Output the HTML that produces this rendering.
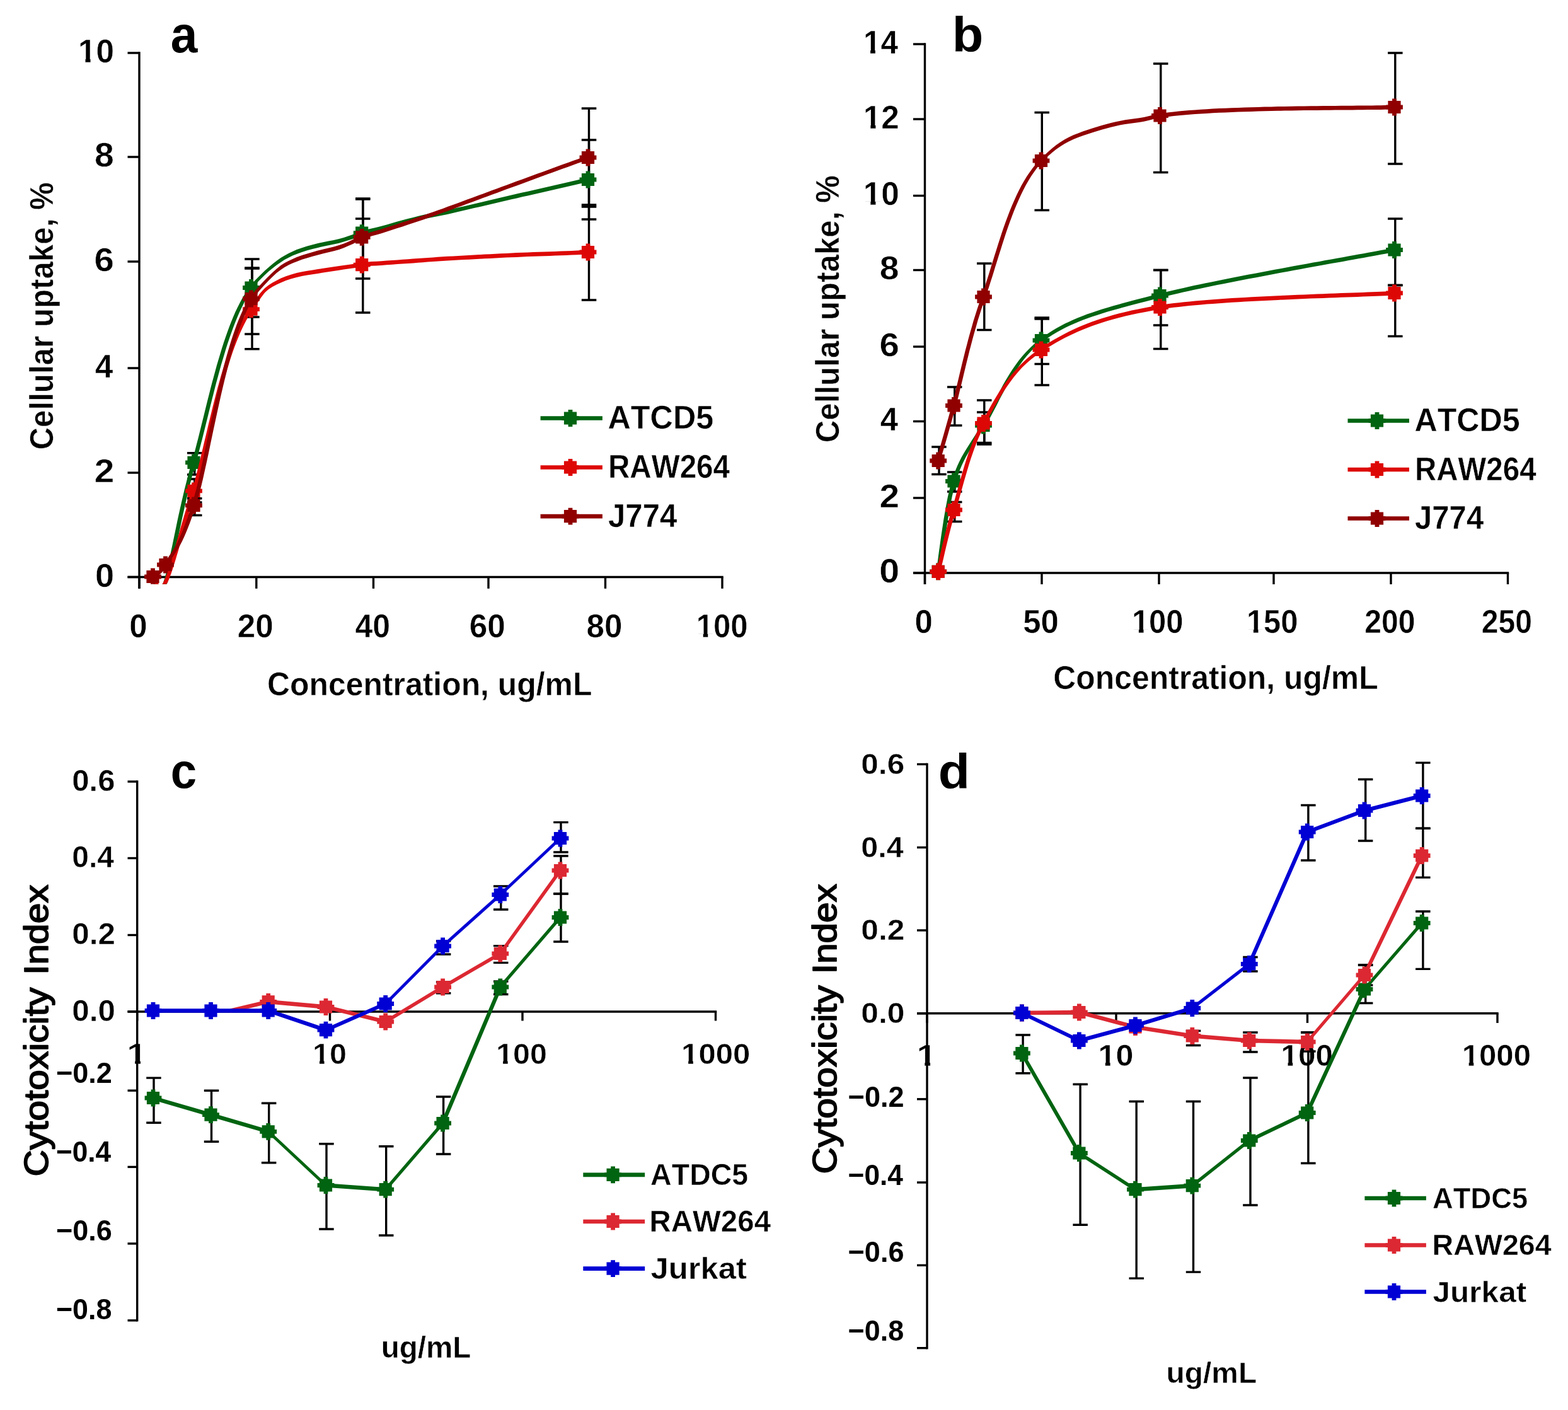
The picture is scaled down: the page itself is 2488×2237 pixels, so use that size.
<!DOCTYPE html>
<html lang="en">
<head>
<meta charset="utf-8">
<title>Cellular uptake and cytotoxicity charts</title>
<style>
html,body{margin:0;padding:0;background:#fff;}
body{width:2488px;height:2237px;overflow:hidden;}
svg{display:block;}
text{fill:#000;font-family:"Liberation Sans",Arial,Helvetica,sans-serif;font-kerning:none;white-space:pre;}
.tb{font-weight:bold;}
.tr{font-weight:normal;}
</style>
</head>
<body>
<svg width="2488" height="2237" viewBox="0 0 2488 2237" role="img" aria-label="Four line charts: cellular uptake versus concentration (a, b) and cytotoxicity index versus dose (c, d)">
<defs>
<polygon id="mk" points="-10.1,-10.1 -3.4,-10.1 -3.4,-13.4 3.4,-13.4 3.4,-10.1 10.1,-10.1 10.1,-3.4 13.4,-3.4 13.4,3.4 10.1,3.4 10.1,10.1 3.4,10.1 3.4,13.4 -3.4,13.4 -3.4,10.1 -10.1,10.1 -10.1,3.4 -13.4,3.4 -13.4,-3.4 -10.1,-3.4"/>
<clipPath id="clipA"><rect x="0" y="0" width="1244" height="926.8"/></clipPath>
<clipPath id="f1"><rect x="-5.3" y="-52.6" width="68.9" height="47"/><rect x="11.8" y="-6.3" width="8.2" height="10.5"/><rect x="29.3" y="-6.3" width="68.9" height="21"/></clipPath>
<clipPath id="f2"><rect x="-5.2" y="-51.9" width="96.8" height="46.4"/><rect x="11.7" y="-6.2" width="8" height="10.4"/><rect x="28.9" y="-6.2" width="96.8" height="20.8"/></clipPath>
<clipPath id="f3"><rect x="-5.3" y="-52.7" width="69" height="47"/><rect x="11.9" y="-6.3" width="8.2" height="10.5"/><rect x="29.3" y="-6.3" width="69" height="21.1"/></clipPath>
<clipPath id="f4"><rect x="-5.3" y="-52.7" width="69" height="47"/><rect x="11.9" y="-6.3" width="8.2" height="10.5"/><rect x="29.3" y="-6.3" width="69" height="21.1"/></clipPath>
<clipPath id="f5"><rect x="-5.3" y="-52.7" width="69" height="47"/><rect x="11.9" y="-6.3" width="8.2" height="10.5"/><rect x="29.3" y="-6.3" width="69" height="21.1"/></clipPath>
<clipPath id="f6"><rect x="-5.2" y="-51.9" width="96.8" height="46.4"/><rect x="11.7" y="-6.2" width="8" height="10.4"/><rect x="28.9" y="-6.2" width="96.8" height="20.8"/></clipPath>
<clipPath id="f7"><rect x="-5.2" y="-51.9" width="96.8" height="46.4"/><rect x="11.7" y="-6.2" width="8" height="10.4"/><rect x="28.9" y="-6.2" width="96.8" height="20.8"/></clipPath>
<clipPath id="f8"><rect x="-4.7" y="-46.9" width="35.4" height="41.9"/><rect x="10.6" y="-5.6" width="7.3" height="9.4"/><rect x="26.1" y="-5.6" width="35.4" height="18.8"/></clipPath>
<clipPath id="f9"><rect x="-4.7" y="-46.9" width="61.4" height="41.9"/><rect x="10.6" y="-5.6" width="7.3" height="9.4"/><rect x="26.1" y="-5.6" width="61.4" height="18.8"/></clipPath>
<clipPath id="f10"><rect x="-4.7" y="-46.9" width="87.5" height="41.9"/><rect x="10.6" y="-5.6" width="7.3" height="9.4"/><rect x="26.1" y="-5.6" width="87.5" height="18.8"/></clipPath>
<clipPath id="f11"><rect x="-4.7" y="-46.9" width="113.5" height="41.9"/><rect x="10.6" y="-5.6" width="7.3" height="9.4"/><rect x="26.1" y="-5.6" width="113.5" height="18.8"/></clipPath>
<clipPath id="f12"><rect x="-4.7" y="-47.3" width="35.7" height="42.3"/><rect x="10.6" y="-5.7" width="7.3" height="9.5"/><rect x="26.3" y="-5.7" width="35.7" height="18.9"/></clipPath>
<clipPath id="f13"><rect x="-4.7" y="-47.3" width="62" height="42.3"/><rect x="10.6" y="-5.7" width="7.3" height="9.5"/><rect x="26.3" y="-5.7" width="62" height="18.9"/></clipPath>
<clipPath id="f14"><rect x="-4.7" y="-47.3" width="88.2" height="42.3"/><rect x="10.6" y="-5.7" width="7.3" height="9.5"/><rect x="26.3" y="-5.7" width="88.2" height="18.9"/></clipPath>
<clipPath id="f15"><rect x="-4.7" y="-47.3" width="114.5" height="42.3"/><rect x="10.6" y="-5.7" width="7.3" height="9.5"/><rect x="26.3" y="-5.7" width="114.5" height="18.9"/></clipPath>
</defs>
<rect x="0" y="0" width="2488" height="2237" fill="#fff"/>
<line x1="221" y1="82.3" x2="221" y2="933.8" stroke="#000" stroke-width="3.4"/>
<line x1="202.5" y1="915.5" x2="1147.7" y2="915.5" stroke="#000" stroke-width="3.4"/>
<line x1="202.5" y1="84" x2="221" y2="84" stroke="#000" stroke-width="3.4"/>
<text class="tb" transform="translate(124.0 98.5) scale(0.9763 1)" font-size="52.6" stroke="#fff" stroke-width="0.5" clip-path="url(#f1)">10</text>
<line x1="202.5" y1="249" x2="221" y2="249" stroke="#000" stroke-width="3.4"/>
<text class="tb" transform="translate(150.0 264.2) scale(1.0446 1)" font-size="53.0" stroke="#fff" stroke-width="0.5">8</text>
<line x1="202.5" y1="415" x2="221" y2="415" stroke="#000" stroke-width="3.4"/>
<text class="tb" transform="translate(149.6 429.7) scale(1.0734 1)" font-size="52.6" stroke="#fff" stroke-width="0.5">6</text>
<line x1="202.5" y1="584" x2="221" y2="584" stroke="#000" stroke-width="3.4"/>
<text class="tb" transform="translate(151.0 599.0) scale(0.9681 1)" font-size="52.6" stroke="#fff" stroke-width="0.5">4</text>
<line x1="202.5" y1="750" x2="221" y2="750" stroke="#000" stroke-width="3.4"/>
<text class="tb" transform="translate(149.8 764.7) scale(1.0790 1)" font-size="52.6" stroke="#fff" stroke-width="0.5">2</text>
<line x1="202.5" y1="915.5" x2="221" y2="915.5" stroke="#000" stroke-width="3.4"/>
<text class="tb" transform="translate(151.1 930.7) scale(1.0304 1)" font-size="52.6" stroke="#fff" stroke-width="0.5">0</text>
<line x1="221" y1="915.5" x2="221" y2="933.8" stroke="#000" stroke-width="3.4"/>
<text class="tb" transform="translate(205.2 1011.0) scale(0.9835 1)" font-size="51.9" stroke="#fff" stroke-width="0.5">0</text>
<line x1="406.8" y1="915.5" x2="406.8" y2="933.8" stroke="#000" stroke-width="3.4"/>
<text class="tb" transform="translate(376.7 1011.0) scale(0.9865 1)" font-size="51.9" stroke="#fff" stroke-width="0.5">20</text>
<line x1="592.5" y1="915.5" x2="592.5" y2="933.8" stroke="#000" stroke-width="3.4"/>
<text class="tb" transform="translate(563.5 1011.0) scale(0.9633 1)" font-size="51.9" stroke="#fff" stroke-width="0.5">40</text>
<line x1="775" y1="915.5" x2="775" y2="933.8" stroke="#000" stroke-width="3.4"/>
<text class="tb" transform="translate(744.8 1011.0) scale(0.9889 1)" font-size="51.9" stroke="#fff" stroke-width="0.5">60</text>
<line x1="960.5" y1="915.5" x2="960.5" y2="933.8" stroke="#000" stroke-width="3.4"/>
<text class="tb" transform="translate(930.6 1011.0) scale(0.9842 1)" font-size="51.9" stroke="#fff" stroke-width="0.5">80</text>
<line x1="1146" y1="915.5" x2="1146" y2="933.8" stroke="#000" stroke-width="3.4"/>
<text class="tb" transform="translate(1104.7 1011.0) scale(0.9432 1)" font-size="51.9" stroke="#fff" stroke-width="0.5" clip-path="url(#f2)">100</text>
<text class="tb" transform="translate(424.0 1102.7) scale(0.9487 1)" font-size="52.6" stroke="#fff" stroke-width="0.5">Concentration, ug/mL</text>
<text class="tb" transform="translate(84 713.5) rotate(-90) scale(0.9367 1)" font-size="52.6" stroke="#fff" stroke-width="0.5">Cellular uptake, %</text>
<text class="tb" transform="translate(270.7 82.8) scale(0.9361 1)" font-size="81.8">a</text>
<path d="M308.8,718.8V753M297,718.8h23.5M297,753h23.5" stroke="#000" stroke-width="3.4" fill="none"/>
<path d="M400,411V503M388.2,411h23.5M388.2,503h23.5" stroke="#000" stroke-width="3.4" fill="none"/>
<path d="M575.8,316V420M564,316h23.5M564,420h23.5" stroke="#000" stroke-width="3.4" fill="none"/>
<path d="M934.5,222V348M922.8,222h23.5M922.8,348h23.5" stroke="#000" stroke-width="3.4" fill="none"/>
<path d="M308.8,760V797M297,760h23.5M297,797h23.5" stroke="#000" stroke-width="3.4" fill="none"/>
<path d="M400,426V553.8M388.2,426h23.5M388.2,553.8h23.5" stroke="#000" stroke-width="3.4" fill="none"/>
<path d="M575.8,347V496M564,347h23.5M564,496h23.5" stroke="#000" stroke-width="3.4" fill="none"/>
<path d="M934.5,325V476M922.8,325h23.5M922.8,476h23.5" stroke="#000" stroke-width="3.4" fill="none"/>
<path d="M308.8,790.8V817.5M297,790.8h23.5M297,817.5h23.5" stroke="#000" stroke-width="3.4" fill="none"/>
<path d="M400,425V530M388.2,425h23.5M388.2,530h23.5" stroke="#000" stroke-width="3.4" fill="none"/>
<path d="M575.8,315V442M564,315h23.5M564,442h23.5" stroke="#000" stroke-width="3.4" fill="none"/>
<path d="M934.5,172V328M922.8,172h23.5M922.8,328h23.5" stroke="#000" stroke-width="3.4" fill="none"/>
<g clip-path="url(#clipA)" fill="#006411">
<path d="M239.2,915L242.5,911.6L245.8,915L247.1,916.7L243.7,920L240.4,916.7ZM240.4,916.7L243.7,913.3L247.1,916.7L248.5,920.2L245.1,923.6L241.8,920.2ZM241.8,920.2L245.1,916.9L248.5,920.2L250.1,924.7L246.8,928.1L243.4,924.7ZM243.4,924.7L246.8,921.4L250.1,924.7L252,929.3L248.6,932.7L245.3,929.3ZM245.3,929.3L248.6,926L252,929.3L254.1,933.2L250.8,936.5L247.4,933.2ZM247.4,933.2L250.8,929.8L253.2,932.1L256.6,935.4L253.2,938.8L250.8,936.5ZM249.9,935.4L253.2,932.1L256,931.9L259.3,935.2L256,938.6L253.2,938.8ZM252.6,935.2L255.7,931.7L259.1,928.3L262.4,931.7L259.3,935.2L256,938.6ZM255.7,931.7L259.1,924L262.5,920.6L265.9,924L262.4,931.7L259.1,935ZM259.1,924L260.6,919.6L264,916.2L267.3,919.6L265.9,924L262.5,927.4ZM260.6,919.6L262.1,914.5L265.5,911.2L268.8,914.5L267.3,919.6L264,922.9ZM262.1,914.5L263.6,908.9L267,905.5L270.3,908.9L268.8,914.5L265.5,917.9ZM263.6,908.9L265.2,902.7L268.5,899.4L271.9,902.7L270.3,908.9L267,912.2ZM265.2,902.7L266.8,896L270.1,892.7L273.5,896L271.9,902.7L268.5,906.1ZM266.8,896L268.4,888.8L271.7,885.5L275.1,888.8L273.5,896L270.1,899.4ZM268.4,888.8L270,881.2L273.4,877.9L276.7,881.2L275.1,888.8L271.7,892.2ZM270,881.2L271.7,873.1L275.1,869.8L278.4,873.1L276.7,881.2L273.4,884.6ZM271.7,873.1L273.5,864.7L276.8,861.4L280.2,864.7L278.4,873.1L275.1,876.5ZM273.5,864.7L275.3,855.9L278.7,852.5L282,855.9L280.2,864.7L276.8,868.1ZM275.3,855.9L277.2,846.8L280.6,843.4L283.9,846.8L282,855.9L278.7,859.2ZM277.2,846.8L279.2,837.3L282.5,834L285.9,837.3L283.9,846.8L280.6,850.1ZM279.2,837.3L281.2,827.6L284.6,824.3L287.9,827.6L285.9,837.3L282.5,840.7ZM281.2,827.6L283.3,817.7L286.7,814.4L290,817.7L287.9,827.6L284.6,831ZM283.3,817.7L285.6,807.6L288.9,804.2L292.3,807.6L290,817.7L286.7,821.1ZM285.6,807.6L287.9,797.3L291.2,794L294.6,797.3L292.3,807.6L288.9,810.9ZM287.9,797.3L290.3,786.9L293.7,783.5L297,786.9L294.6,797.3L291.2,800.7ZM290.3,786.9L292.8,776.3L296.2,773L299.5,776.3L297,786.9L293.7,790.2ZM292.8,776.3L295.5,765.7L298.8,762.4L302.2,765.7L299.5,776.3L296.2,779.7ZM295.5,765.7L298.2,755.1L301.6,751.7L304.9,755.1L302.2,765.7L298.8,769.1ZM298.2,755.1L301.1,744.4L304.5,741L307.8,744.4L304.9,755.1L301.6,758.4ZM301.1,744.4L304.1,733.8L307.5,730.4L310.9,733.8L307.8,744.4L304.5,747.7ZM304.1,733.8L306.2,726.7L309.5,723.4L312.9,726.7L310.9,733.8L307.5,737.1ZM306.2,726.7L308.2,719.4L311.5,716L314.9,719.4L312.9,726.7L309.5,730.1ZM308.2,719.4L310.2,711.8L313.5,708.5L316.9,711.8L314.9,719.4L311.5,722.7ZM310.2,711.8L312.2,704L315.6,700.6L318.9,704L316.9,711.8L313.5,715.2ZM312.2,704L314.3,695.9L317.6,692.5L321,695.9L318.9,704L315.6,707.3ZM314.3,695.9L316.4,687.6L319.7,684.2L323.1,687.6L321,695.9L317.6,699.2ZM316.4,687.6L318.5,679.1L321.8,675.8L325.2,679.1L323.1,687.6L319.7,690.9ZM318.5,679.1L320.6,670.5L324,667.1L327.3,670.5L325.2,679.1L321.8,682.5ZM320.6,670.5L322.8,661.7L326.1,658.3L329.5,661.7L327.3,670.5L324,673.8ZM322.8,661.7L325,652.8L328.3,649.4L331.7,652.8L329.5,661.7L326.1,665ZM325,652.8L327.2,643.7L330.5,640.4L333.9,643.7L331.7,652.8L328.3,656.1ZM327.2,643.7L329.5,634.6L332.8,631.3L336.2,634.6L333.9,643.7L330.5,647.1ZM329.5,634.6L331.8,625.5L335.1,622.1L338.5,625.5L336.2,634.6L332.8,638ZM331.8,625.5L334.1,616.3L337.5,612.9L340.8,616.3L338.5,625.5L335.1,628.8ZM334.1,616.3L336.5,607.1L339.9,603.7L343.2,607.1L340.8,616.3L337.5,619.6ZM336.5,607.1L339,597.9L342.3,594.5L345.7,597.9L343.2,607.1L339.9,610.4ZM339,597.9L341.5,588.7L344.8,585.3L348.2,588.7L345.7,597.9L342.3,601.2ZM341.5,588.7L344,579.5L347.4,576.2L350.7,579.5L348.2,588.7L344.8,592ZM344,579.5L346.7,570.4L350,567.1L353.4,570.4L350.7,579.5L347.4,582.9ZM346.7,570.4L349.4,561.4L352.7,558.1L356.1,561.4L353.4,570.4L350,573.8ZM349.4,561.4L352.1,552.5L355.5,549.2L358.8,552.5L356.1,561.4L352.7,564.8ZM352.1,552.5L354.9,543.8L358.3,540.4L361.6,543.8L358.8,552.5L355.5,555.9ZM354.9,543.8L357.8,535.2L361.2,531.8L364.5,535.2L361.6,543.8L358.3,547.1ZM357.8,535.2L360.8,526.7L364.1,523.4L367.5,526.7L364.5,535.2L361.2,538.5ZM360.8,526.7L363.8,518.5L367.2,515.2L370.5,518.5L367.5,526.7L364.1,530.1ZM363.8,518.5L366.9,510.5L370.3,507.1L373.6,510.5L370.5,518.5L367.2,521.9ZM366.9,510.5L370.1,502.7L373.5,499.3L376.8,502.7L373.6,510.5L370.3,513.8ZM370.1,502.7L373.4,495.1L376.8,491.8L380.1,495.1L376.8,502.7L373.5,506ZM373.4,495.1L376.8,487.9L380.2,484.5L383.5,487.9L380.1,495.1L376.8,498.5ZM376.8,487.9L380.3,480.9L383.6,477.6L387,480.9L383.5,487.9L380.2,491.2ZM380.3,480.9L383.9,474.3L387.2,470.9L390.6,474.3L387,480.9L383.6,484.3ZM383.9,474.3L387.5,468L390.9,464.6L394.2,468L390.6,474.3L387.2,477.6ZM387.5,468L391.3,462.1L394.6,458.7L398,462.1L394.2,468L390.9,471.3ZM391.3,462.1L395.1,456.5L398.5,453.1L401.9,456.5L398,462.1L394.6,465.4ZM395.1,456.5L400.2,450.1L403.5,446.8L406.9,450.1L401.9,456.5L398.5,459.9ZM400.2,450.1L405.5,444.1L408.9,440.7L412.2,444.1L406.9,450.1L403.5,453.5ZM405.5,444.1L411.2,438.3L414.6,435L417.9,438.3L414.6,441.7L408.9,447.4ZM411.2,438.3L420.4,429.3L423.8,432.7L420.4,436.1L414.6,441.7ZM417,432.7L420.4,429.3L426.4,423.9L429.7,427.3L426.4,430.6L420.4,436.1ZM423,427.3L426.4,423.9L432.6,418.7L435.9,422.1L432.6,425.4L426.4,430.6ZM429.2,422.1L432.6,418.7L439,413.8L442.3,417.1L439,420.5L432.6,425.4ZM435.6,417.1L439,413.8L445.6,409.1L449,412.5L445.6,415.9L439,420.5ZM442.2,412.5L445.6,409.1L451.6,405.4L455,408.8L451.6,412.1L445.6,415.9ZM448.3,408.8L451.6,405.4L457.9,402L461.2,405.3L457.9,408.7L451.6,412.1ZM454.5,405.3L457.9,402L464.3,398.9L467.6,402.3L464.3,405.6L457.9,408.7ZM460.9,402.3L464.3,398.9L470.8,396.1L474.2,399.5L470.8,402.9L464.3,405.6ZM467.4,399.5L470.8,396.1L479,393.2L482.4,396.5L479,399.9L470.8,402.9ZM475.7,396.5L479,393.2L487.4,390.6L490.8,394L487.4,397.3L479,399.9ZM484.1,394L487.4,390.6L495.9,388.3L499.3,391.7L495.9,395L487.4,397.3ZM492.6,391.7L495.9,388.3L504.4,386.1L507.8,389.5L504.4,392.9L495.9,395ZM501,389.5L504.4,386.1L512.8,384.2L516.1,387.6L512.8,390.9L504.4,392.9ZM509.4,387.6L512.8,384.2L521.2,382.5L524.5,385.9L521.2,389.2L512.8,390.9ZM517.8,385.9L521.2,382.5L529.6,380.9L533,384.2L529.6,387.6L521.2,389.2ZM526.3,384.2L529.6,380.9L538,378.9L541.4,382.3L538,385.7L529.6,387.6ZM534.6,382.3L538,378.9L545.4,376.9L548.8,380.3L545.4,383.6L538,385.7ZM542.1,380.3L545.4,376.9L552.7,374.6L556.1,378L552.7,381.3L545.4,383.6ZM549.4,378L552.7,374.6L560,372.1L563.4,375.5L560,378.9L552.7,381.3ZM556.6,375.5L560,372.1L567.1,369.2L570.4,372.6L567.1,375.9L560,378.9ZM563.7,372.6L567.1,369.2L574.2,366.3L577.6,369.7L574.2,373.1L567.1,375.9ZM570.9,369.7L574.2,366.3L581.9,364.2L585.2,367.5L581.9,370.9L574.2,373.1ZM578.5,367.5L581.9,364.2L589.6,362.4L593,365.8L589.6,369.1L581.9,370.9ZM586.3,365.8L589.6,362.4L597.4,360.7L600.8,364.1L597.4,367.4L589.6,369.1ZM594.1,364.1L597.4,360.7L605.2,358.8L608.6,362.2L605.2,365.6L597.4,367.4ZM601.9,362.2L605.2,358.8L613.6,356.5L617,359.9L613.6,363.2L605.2,365.6ZM610.3,359.9L613.6,356.5L622,354.1L625.4,357.4L622,360.8L613.6,363.2ZM618.7,357.4L622,354.1L630.4,351.6L633.7,355L630.4,358.3L622,360.8ZM627,355L630.4,351.6L638.8,349.2L642.1,352.6L638.8,356L630.4,358.3ZM635.4,352.6L638.8,349.2L647.2,347L650.5,350.4L647.2,353.7L638.8,356ZM643.8,350.4L647.2,347L655.6,344.9L658.9,348.2L655.6,351.6L647.2,353.7ZM652.2,348.2L655.6,344.9L664,342.8L667.3,346.2L664,349.5L655.6,351.6ZM660.6,346.2L664,342.8L672.4,340.8L675.8,344.2L672.4,347.6L664,349.5ZM669,344.2L672.4,340.8L679.9,339.2L683.3,342.6L679.9,345.9L672.4,347.6ZM676.6,342.6L679.9,339.2L687.4,337.7L690.8,341.1L687.4,344.4L679.9,345.9ZM684.1,341.1L687.4,337.7L695,336.3L698.3,339.6L695,343L687.4,344.4ZM691.6,339.6L695,336.3L702.5,334.8L705.8,338.1L702.5,341.5L695,343ZM699.1,338.1L702.5,334.8L710,333.1L713.4,336.5L710,339.9L702.5,341.5ZM706.6,336.5L710,333.1L718.5,331.2L721.8,334.6L718.5,337.9L710,339.9ZM715.1,334.6L718.5,331.2L726.9,329.3L730.3,332.7L726.9,336L718.5,337.9ZM723.6,332.7L726.9,329.3L735.4,327.4L738.8,330.7L735.4,334.1L726.9,336ZM732.1,330.7L735.4,327.4L743.9,325.4L747.2,328.8L743.9,332.1L735.4,334.1ZM740.5,328.8L743.9,325.4L752.3,323.4L755.7,326.8L752.3,330.1L743.9,332.1ZM749,326.8L752.3,323.4L760.8,321.5L764.1,324.8L760.8,328.2L752.3,330.1ZM757.4,324.8L760.8,321.5L769.2,319.5L772.6,322.8L769.2,326.2L760.8,328.2ZM765.9,322.8L769.2,319.5L777.7,317.5L781.1,320.9L777.7,324.2L769.2,326.2ZM774.4,320.9L777.7,317.5L786.2,315.5L789.5,318.9L786.2,322.2L777.7,324.2ZM782.8,318.9L786.2,315.5L794.6,313.6L798,316.9L794.6,320.3L786.2,322.2ZM791.3,316.9L794.6,313.6L803.1,311.6L806.4,314.9L803.1,318.3L794.6,320.3ZM799.7,314.9L803.1,311.6L811.5,309.6L814.9,313L811.5,316.3L803.1,318.3ZM808.2,313L811.5,309.6L820,307.6L823.4,311L820,314.4L811.5,316.3ZM816.6,311L820,307.6L828.7,305.6L832,309L828.7,312.3L820,314.4ZM825.3,309L828.7,305.6L837.4,303.7L840.7,307L837.4,310.4L828.7,312.3ZM834,307L837.4,303.7L846.1,301.7L849.4,305L846.1,308.4L837.4,310.4ZM842.7,305L846.1,301.7L854.8,299.7L858.1,303L854.8,306.4L846.1,308.4ZM851.4,303L854.8,299.7L863.5,297.7L866.8,301L863.5,304.4L854.8,306.4ZM860.1,301L863.5,297.7L872.2,295.7L875.5,299.1L872.2,302.4L863.5,304.4ZM868.8,299.1L872.2,295.7L880.9,293.7L884.2,297.1L880.9,300.4L872.2,302.4ZM877.5,297.1L880.9,293.7L889.6,291.7L892.9,295.1L889.6,298.4L880.9,300.4ZM886.2,295.1L889.6,291.7L898.3,289.7L901.6,293.1L898.3,296.4L889.6,298.4ZM894.9,293.1L898.3,289.7L906.9,287.7L910.3,291.1L906.9,294.4L898.3,296.4ZM903.6,291.1L906.9,287.7L915.6,285.7L919,289.1L915.6,292.4L906.9,294.4ZM912.3,289.1L915.6,285.7L924.3,283.7L927.7,287L924.3,290.4L915.6,292.4ZM921,287L924.3,283.7L933,281.6L936.4,285L933,288.4L924.3,290.4Z"/>
<use href="#mk" x="307.5" y="733.8"/>
<use href="#mk" x="398.5" y="456.5"/>
<use href="#mk" x="574.2" y="369.7"/>
<use href="#mk" x="933" y="285"/>
</g>
<g clip-path="url(#clipA)" fill="#DD0806">
<path d="M239.2,915L242.5,911.6L245.8,915L247.4,917.2L244.1,920.5L240.7,917.2ZM240.7,917.2L244.1,913.8L247.4,917.2L249.4,921.4L246,924.8L242.7,921.4ZM242.7,921.4L246,918.1L249.4,921.4L251.7,926.3L248.4,929.7L245,926.3ZM245,926.3L248.4,923L251.7,926.3L254.5,930.5L251.1,933.8L247.8,930.5ZM247.8,930.5L251.1,927.1L254.4,929.1L257.7,932.4L254.4,935.8L251.1,933.8ZM251,932.4L254.4,929.1L258.2,927.4L261.5,930.7L258.2,934.1L254.4,935.8ZM254.8,930.7L259.1,924L262.5,920.6L265.9,924L261.5,930.7L258.2,934.1ZM259.1,924L261.1,919.7L264.4,916.4L267.8,919.7L265.9,924L262.5,927.4ZM261.1,919.7L263,914.8L266.4,911.5L269.7,914.8L267.8,919.7L264.4,923.1ZM263,914.8L265,909.4L268.4,906.1L271.7,909.4L269.7,914.8L266.4,918.2ZM265,909.4L267,903.5L270.4,900.1L273.7,903.5L271.7,909.4L268.4,912.8ZM267,903.5L269.1,896.9L272.5,893.6L275.8,896.9L273.7,903.5L270.4,906.8ZM269.1,896.9L271.3,889.9L274.7,886.5L278,889.9L275.8,896.9L272.5,900.3ZM271.3,889.9L273.6,882.3L277,879L280.3,882.3L278,889.9L274.7,893.2ZM273.6,882.3L276,874.2L279.3,870.8L282.7,874.2L280.3,882.3L277,885.7ZM276,874.2L278.5,865.6L281.8,862.2L285.2,865.6L282.7,874.2L279.3,877.5ZM278.5,865.6L281.1,856.4L284.4,853.1L287.8,856.4L285.2,865.6L281.8,868.9ZM281.1,856.4L283.9,846.8L287.2,843.4L290.6,846.8L287.8,856.4L284.4,859.8ZM283.9,846.8L286.8,836.6L290.1,833.3L293.5,836.6L290.6,846.8L287.2,850.1ZM286.8,836.6L289.9,826L293.2,822.7L296.6,826L293.5,836.6L290.1,840ZM289.9,826L293.1,814.9L296.5,811.6L299.8,814.9L296.6,826L293.2,829.4ZM293.1,814.9L296.6,803.3L299.9,800L303.3,803.3L299.8,814.9L296.5,818.3ZM296.6,803.3L300.3,791.3L303.6,787.9L307,791.3L303.3,803.3L299.9,806.7ZM300.3,791.3L304.1,778.8L307.5,775.4L310.9,778.8L307,791.3L303.6,794.6ZM304.1,778.8L306.1,772.4L309.4,769L312.8,772.4L310.9,778.8L307.5,782.1ZM306.1,772.4L308.1,765.6L311.4,762.2L314.8,765.6L312.8,772.4L309.4,775.7ZM308.1,765.6L310,758.4L313.4,755.1L316.7,758.4L314.8,765.6L311.4,768.9ZM310,758.4L312,751L315.3,747.6L318.7,751L316.7,758.4L313.4,761.8ZM312,751L314,743.2L317.3,739.8L320.7,743.2L318.7,751L315.3,754.3ZM314,743.2L316,735.1L319.4,731.8L322.7,735.1L320.7,743.2L317.3,746.5ZM316,735.1L318.1,726.8L321.4,723.5L324.8,726.8L322.7,735.1L319.4,738.5ZM318.1,726.8L320.1,718.2L323.5,714.9L326.8,718.2L324.8,726.8L321.4,730.2ZM320.1,718.2L322.2,709.5L325.6,706.1L328.9,709.5L326.8,718.2L323.5,721.6ZM322.2,709.5L324.3,700.5L327.7,697.2L331,700.5L328.9,709.5L325.6,712.8ZM324.3,700.5L326.5,691.4L329.8,688.1L333.2,691.4L331,700.5L327.7,703.9ZM326.5,691.4L328.7,682.2L332,678.8L335.4,682.2L333.2,691.4L329.8,694.8ZM328.7,682.2L330.9,672.8L334.3,669.5L337.6,672.8L335.4,682.2L332,685.5ZM330.9,672.8L333.2,663.4L336.5,660L339.9,663.4L337.6,672.8L334.3,676.2ZM333.2,663.4L335.5,653.9L338.8,650.5L342.2,653.9L339.9,663.4L336.5,666.7ZM335.5,653.9L337.8,644.4L341.2,641L344.5,644.4L342.2,653.9L338.8,657.2ZM337.8,644.4L340.3,634.8L343.6,631.5L347,634.8L344.5,644.4L341.2,647.7ZM340.3,634.8L342.7,625.3L346.1,622L349.4,625.3L347,634.8L343.6,638.2ZM342.7,625.3L345.2,615.8L348.6,612.5L351.9,615.8L349.4,625.3L346.1,628.7ZM345.2,615.8L347.8,606.4L351.2,603.1L354.5,606.4L351.9,615.8L348.6,619.2ZM347.8,606.4L350.4,597.1L353.8,593.8L357.1,597.1L354.5,606.4L351.2,609.8ZM350.4,597.1L353.1,587.9L356.5,584.6L359.8,587.9L357.1,597.1L353.8,600.5ZM353.1,587.9L355.9,578.9L359.3,575.5L362.6,578.9L359.8,587.9L356.5,591.3ZM355.9,578.9L358.7,570L362.1,566.6L365.4,570L362.6,578.9L359.3,582.2ZM358.7,570L361.6,561.3L365,558L368.3,561.3L365.4,570L362.1,573.3ZM361.6,561.3L364.6,552.8L368,549.5L371.3,552.8L368.3,561.3L365,564.7ZM364.6,552.8L367.7,544.6L371,541.3L374.4,544.6L371.3,552.8L368,556.2ZM367.7,544.6L370.8,536.7L374.1,533.3L377.5,536.7L374.4,544.6L371,548ZM370.8,536.7L374,529L377.4,525.7L380.7,529L377.5,536.7L374.1,540ZM374,529L377.3,521.7L380.7,518.3L384,521.7L380.7,529L377.4,532.4ZM377.3,521.7L380.7,514.7L384,511.3L387.4,514.7L384,521.7L380.7,525ZM380.7,514.7L384.2,508.1L387.5,504.7L390.9,508.1L387.4,514.7L384,518ZM384.2,508.1L387.7,501.9L391.1,498.5L394.4,501.9L390.9,508.1L387.5,511.4ZM387.7,501.9L391.4,496.1L394.7,492.7L398.1,496.1L394.4,501.9L391.1,505.2ZM391.4,496.1L395.1,490.7L398.5,487.3L401.9,490.7L398.1,496.1L394.7,499.4ZM395.1,490.7L399.4,484.6L402.8,481.2L406.1,484.6L401.9,490.7L398.5,494.1ZM399.4,484.6L403.5,478.3L406.8,474.9L410.2,478.3L406.1,484.6L402.8,487.9ZM403.5,478.3L407.6,472L411,468.6L414.3,472L410.2,478.3L406.8,481.6ZM407.6,472L412.1,466L415.4,462.7L418.8,466L414.3,472L411,475.3ZM412.1,466L417,460.5L420.4,457.1L423.8,460.5L418.8,466L415.4,469.4ZM417,460.5L420.4,457.1L426.1,452.4L429.4,455.8L426.1,459.1L420.4,463.9ZM422.7,455.8L426.1,452.4L432.3,448.4L435.7,451.8L432.3,455.1L426.1,459.1ZM429,451.8L432.3,448.4L438.9,444.9L442.3,448.2L438.9,451.6L432.3,455.1ZM435.6,448.2L438.9,444.9L445.6,441.6L449,445L445.6,448.4L438.9,451.6ZM442.2,445L445.6,441.6L453.8,438.2L457.1,441.6L453.8,444.9L445.6,448.4ZM450.4,441.6L453.8,438.2L462.2,435.5L465.6,438.8L462.2,442.2L453.8,444.9ZM458.9,438.8L462.2,435.5L470.8,433.1L474.2,436.5L470.8,439.9L462.2,442.2ZM467.4,436.5L470.8,433.1L479.1,431.3L482.5,434.7L479.1,438L470.8,439.9ZM475.8,434.7L479.1,431.3L487.5,429.8L490.9,433.2L487.5,436.5L479.1,438ZM484.2,433.2L487.5,429.8L496,428.5L499.3,431.8L496,435.2L487.5,436.5ZM492.6,431.8L496,428.5L504.4,427.1L507.8,430.5L504.4,433.9L496,435.2ZM501,430.5L504.4,427.1L512.8,425.8L516.1,429.1L512.8,432.5L504.4,433.9ZM509.4,429.1L512.8,425.8L521.2,424.5L524.5,427.8L521.2,431.2L512.8,432.5ZM517.8,427.8L521.2,424.5L529.6,423.2L532.9,426.6L529.6,429.9L521.2,431.2ZM526.2,426.6L529.6,423.2L538,421.9L541.4,425.3L538,428.7L529.6,429.9ZM534.6,425.3L538,421.9L545.2,420.9L548.6,424.3L545.2,427.6L538,428.7ZM541.9,424.3L545.2,420.9L552.5,419.9L555.8,423.3L552.5,426.6L545.2,427.6ZM549.1,423.3L552.5,419.9L559.7,418.9L563.1,422.3L559.7,425.6L552.5,426.6ZM556.4,422.3L559.7,418.9L567,417.9L570.3,421.3L567,424.6L559.7,425.6ZM563.6,421.3L567,417.9L574.2,416.8L577.6,420.1L574.2,423.5L567,424.6ZM570.9,420.1L574.2,416.8L581.9,415.7L585.3,419.1L581.9,422.4L574.2,423.5ZM578.6,419.1L581.9,415.7L589.7,415.1L593,418.5L589.7,421.8L581.9,422.4ZM586.3,418.5L589.7,415.1L597.4,414.7L600.8,418.1L597.4,421.4L589.7,421.8ZM594.1,418.1L597.4,414.7L605.2,414.2L608.6,417.6L605.2,421L597.4,421.4ZM601.9,417.6L605.2,414.2L613.6,413.6L616.9,417L613.6,420.3L605.2,421ZM610.2,417L613.6,413.6L622,413L625.3,416.4L622,419.7L613.6,420.3ZM618.6,416.4L622,413L630.4,412.4L633.7,415.8L630.4,419.1L622,419.7ZM627,415.8L630.4,412.4L638.8,411.8L642.1,415.2L638.8,418.5L630.4,419.1ZM635.4,415.2L638.8,411.8L647.2,411.2L650.5,414.6L647.2,417.9L638.8,418.5ZM643.8,414.6L647.2,411.2L655.6,410.6L659,414L655.6,417.4L647.2,417.9ZM652.2,414L655.6,410.6L663.4,410.1L666.7,413.4L663.4,416.8L655.6,417.4ZM660,413.4L663.4,410.1L671.1,409.5L674.5,412.9L671.1,416.2L663.4,416.8ZM667.8,412.9L671.1,409.5L678.9,408.9L682.3,412.3L678.9,415.6L671.1,416.2ZM675.6,412.3L678.9,408.9L686.7,408.4L690,411.7L686.7,415.1L678.9,415.6ZM683.3,411.7L686.7,408.4L694.5,407.8L697.8,411.2L694.5,414.5L686.7,415.1ZM691.1,411.2L694.5,407.8L702.2,407.3L705.6,410.7L702.2,414L694.5,414.5ZM698.9,410.7L702.2,407.3L710,406.8L713.4,410.2L710,413.6L702.2,414ZM706.6,410.2L710,406.8L718.5,406.4L721.8,409.7L718.5,413.1L710,413.6ZM715.1,409.7L718.5,406.4L726.9,405.9L730.3,409.2L726.9,412.6L718.5,413.1ZM723.6,409.2L726.9,405.9L735.4,405.4L738.7,408.8L735.4,412.1L726.9,412.6ZM732,408.8L735.4,405.4L743.8,405L747.2,408.3L743.8,411.7L735.4,412.1ZM740.5,408.3L743.8,405L752.3,404.5L755.6,407.9L752.3,411.2L743.8,411.7ZM748.9,407.9L752.3,404.5L760.8,404.1L764.1,407.4L760.8,410.8L752.3,411.2ZM757.4,407.4L760.8,404.1L769.2,403.6L772.6,407L769.2,410.3L760.8,410.8ZM765.9,407L769.2,403.6L777.7,403.2L781,406.5L777.7,409.9L769.2,410.3ZM774.3,406.5L777.7,403.2L786.1,402.8L789.5,406.1L786.1,409.5L777.7,409.9ZM782.8,406.1L786.1,402.8L794.6,402.3L798,405.7L794.6,409L786.1,409.5ZM791.3,405.7L794.6,402.3L803.1,401.9L806.4,405.3L803.1,408.6L794.6,409ZM799.7,405.3L803.1,401.9L811.5,401.5L814.9,404.9L811.5,408.2L803.1,408.6ZM808.2,404.9L811.5,401.5L820,401.1L823.4,404.5L820,407.9L811.5,408.2ZM816.6,404.5L820,401.1L828.7,400.8L832,404.1L828.7,407.5L820,407.9ZM825.3,404.1L828.7,400.8L837.4,400.4L840.7,403.8L837.4,407.1L828.7,407.5ZM834,403.8L837.4,400.4L846.1,400.1L849.4,403.4L846.1,406.8L837.4,407.1ZM842.7,403.4L846.1,400.1L854.8,399.8L858.1,403.1L854.8,406.5L846.1,406.8ZM851.4,403.1L854.8,399.8L863.5,399.5L866.8,402.8L863.5,406.2L854.8,406.5ZM860.1,402.8L863.5,399.5L872.2,399.2L875.5,402.5L872.2,405.9L863.5,406.2ZM868.8,402.5L872.2,399.2L880.9,398.9L884.2,402.2L880.9,405.6L872.2,405.9ZM877.5,402.2L880.9,398.9L889.5,398.6L892.9,401.9L889.5,405.3L880.9,405.6ZM886.2,401.9L889.5,398.6L898.2,398.3L901.6,401.6L898.2,405L889.5,405.3ZM894.9,401.6L898.2,398.3L906.9,397.9L910.3,401.3L906.9,404.6L898.2,405ZM903.6,401.3L906.9,397.9L915.6,397.5L919,400.9L915.6,404.2L906.9,404.6ZM912.3,400.9L915.6,397.5L924.3,397.1L927.7,400.5L924.3,403.8L915.6,404.2ZM921,400.5L924.3,397.1L933,396.6L936.4,400L933,403.4L924.3,403.8Z"/>
<use href="#mk" x="307.5" y="778.8"/>
<use href="#mk" x="398.5" y="490.7"/>
<use href="#mk" x="574.2" y="420.1"/>
<use href="#mk" x="933" y="400"/>
</g>
<g clip-path="url(#clipA)" fill="#900000">
<path d="M239.2,915L242.5,911.6L245.5,910L248.9,913.3L245.5,916.7L242.5,918.4ZM242.2,913.3L245.5,910L249.7,908L253,911.4L249.7,914.7L245.5,916.7ZM246.3,911.4L249.7,908L255.3,903.1L258.6,906.5L255.3,909.8L249.7,914.7ZM251.9,906.5L259.1,896L262.5,892.6L265.9,896L258.6,906.5L255.3,909.8ZM259.1,896L261.7,891.9L265,888.5L268.4,891.9L265.9,896L262.5,899.4ZM261.7,891.9L264.2,888L267.6,884.6L270.9,888L268.4,891.9L265,895.2ZM264.2,888L266.9,884.2L270.2,880.8L273.6,884.2L270.9,888L267.6,891.3ZM266.9,884.2L269.6,880.2L273,876.9L276.3,880.2L273.6,884.2L270.2,887.5ZM269.6,880.2L272.5,875.9L275.9,872.5L279.2,875.9L276.3,880.2L273,883.6ZM272.5,875.9L275.6,870.9L279,867.6L282.3,870.9L279.2,875.9L275.9,879.2ZM275.6,870.9L278.9,865.2L282.2,861.8L285.6,865.2L282.3,870.9L279,874.3ZM278.9,865.2L282.4,858.4L285.7,855.1L289.1,858.4L285.6,865.2L282.2,868.5ZM282.4,858.4L286.1,850.4L289.4,847.1L292.8,850.4L289.1,858.4L285.7,861.8ZM286.1,850.4L290.1,841L293.5,837.6L296.8,841L292.8,850.4L289.4,853.8ZM290.1,841L294.4,829.9L297.8,826.5L301.1,829.9L296.8,841L293.5,844.3ZM294.4,829.9L299.1,816.9L302.5,813.5L305.8,816.9L301.1,829.9L297.8,833.2ZM299.1,816.9L304.1,801.8L307.5,798.4L310.9,801.8L305.8,816.9L302.5,820.2ZM304.1,801.8L305.9,796.1L309.2,792.8L312.6,796.1L310.9,801.8L307.5,805.1ZM305.9,796.1L307.6,790L311,786.7L314.3,790L312.6,796.1L309.2,799.5ZM307.6,790L309.4,783.6L312.8,780.2L316.1,783.6L314.3,790L311,793.4ZM309.4,783.6L311.2,776.7L314.5,773.3L317.9,776.7L316.1,783.6L312.8,786.9ZM311.2,776.7L313,769.5L316.3,766.1L319.7,769.5L317.9,776.7L314.5,780ZM313,769.5L314.8,761.9L318.1,758.5L321.5,761.9L319.7,769.5L316.3,772.8ZM314.8,761.9L316.6,754L319.9,750.6L323.3,754L321.5,761.9L318.1,765.2ZM316.6,754L318.4,745.8L321.8,742.5L325.1,745.8L323.3,754L319.9,757.3ZM318.4,745.8L320.3,737.3L323.6,734L327,737.3L325.1,745.8L321.8,749.2ZM320.3,737.3L322.2,728.6L325.5,725.3L328.9,728.6L327,737.3L323.6,740.7ZM322.2,728.6L324.1,719.7L327.4,716.4L330.8,719.7L328.9,728.6L325.5,732ZM324.1,719.7L326,710.6L329.3,707.2L332.7,710.6L330.8,719.7L327.4,723.1ZM326,710.6L327.9,701.3L331.3,697.9L334.6,701.3L332.7,710.6L329.3,713.9ZM327.9,701.3L329.9,691.8L333.3,688.5L336.6,691.8L334.6,701.3L331.3,704.6ZM329.9,691.8L331.9,682.2L335.3,678.9L338.6,682.2L336.6,691.8L333.3,695.2ZM331.9,682.2L334,672.5L337.3,669.2L340.7,672.5L338.6,682.2L335.3,685.6ZM334,672.5L336.1,662.7L339.4,659.4L342.8,662.7L340.7,672.5L337.3,675.9ZM336.1,662.7L338.2,652.9L341.6,649.6L344.9,652.9L342.8,662.7L339.4,666.1ZM338.2,652.9L340.4,643L343.7,639.7L347.1,643L344.9,652.9L341.6,656.3ZM340.4,643L342.6,633.1L345.9,629.8L349.3,633.1L347.1,643L343.7,646.4ZM342.6,633.1L344.8,623.3L348.2,619.9L351.5,623.3L349.3,633.1L345.9,636.5ZM344.8,623.3L347.1,613.4L350.5,610.1L353.8,613.4L351.5,623.3L348.2,626.6ZM347.1,613.4L349.5,603.6L352.8,600.3L356.2,603.6L353.8,613.4L350.5,616.8ZM349.5,603.6L351.9,593.9L355.2,590.6L358.6,593.9L356.2,603.6L352.8,607ZM351.9,593.9L354.3,584.3L357.7,581L361,584.3L358.6,593.9L355.2,597.3ZM354.3,584.3L356.8,574.9L360.2,571.5L363.5,574.9L361,584.3L357.7,587.7ZM356.8,574.9L359.4,565.5L362.7,562.2L366.1,565.5L363.5,574.9L360.2,578.2ZM359.4,565.5L362,556.4L365.4,553L368.7,556.4L366.1,565.5L362.7,568.9ZM362,556.4L364.7,547.4L368,544.1L371.4,547.4L368.7,556.4L365.4,559.7ZM364.7,547.4L367.4,538.7L370.8,535.4L374.1,538.7L371.4,547.4L368,550.8ZM367.4,538.7L370.2,530.2L373.6,526.9L376.9,530.2L374.1,538.7L370.8,542.1ZM370.2,530.2L373.1,522L376.4,518.7L379.8,522L376.9,530.2L373.6,533.6ZM373.1,522L376,514.1L379.4,510.7L382.7,514.1L379.8,522L376.4,525.4ZM376,514.1L379,506.5L382.4,503.1L385.7,506.5L382.7,514.1L379.4,517.4ZM379,506.5L382.1,499.2L385.5,495.9L388.8,499.2L385.7,506.5L382.4,509.8ZM382.1,499.2L385.2,492.3L388.6,489L391.9,492.3L388.8,499.2L385.5,502.6ZM385.2,492.3L388.5,485.8L391.8,482.4L395.2,485.8L391.9,492.3L388.6,495.7ZM388.5,485.8L391.8,479.7L395.1,476.3L398.5,479.7L395.2,485.8L391.8,489.1ZM391.8,479.7L395.1,474L398.5,470.6L401.9,474L398.5,479.7L395.1,483ZM395.1,474L400,467L403.4,463.6L406.7,467L401.9,474L398.5,477.4ZM400,467L405.4,460.4L408.8,457L412.1,460.4L406.7,467L403.4,470.3ZM405.4,460.4L411.2,454L414.5,450.7L417.9,454L412.1,460.4L408.8,463.7ZM411.2,454L417,447.8L420.4,444.4L423.8,447.8L417.9,454L414.5,457.4ZM417,447.8L423,441.6L426.4,438.3L429.7,441.6L423.8,447.8L420.4,451.2ZM423,441.6L429.1,435.5L432.5,432.2L435.8,435.5L432.5,438.9L426.4,445ZM429.1,435.5L432.5,432.2L438.9,426.4L442.2,429.8L438.9,433.1L432.5,438.9ZM435.5,429.8L438.9,426.4L445.6,421.1L449,424.5L445.6,427.9L438.9,433.1ZM442.2,424.5L445.6,421.1L451.5,417.3L454.9,420.6L451.5,424L445.6,427.9ZM448.2,420.6L451.5,417.3L457.8,413.9L461.1,417.2L457.8,420.6L451.5,424ZM454.4,417.2L457.8,413.9L464.2,410.9L467.6,414.2L464.2,417.6L457.8,420.6ZM460.9,414.2L464.2,410.9L470.8,408.1L474.2,411.5L470.8,414.9L464.2,417.6ZM467.4,411.5L470.8,408.1L479.1,405.1L482.4,408.5L479.1,411.8L470.8,414.9ZM475.7,408.5L479.1,405.1L487.5,402.5L490.8,405.8L487.5,409.2L479.1,411.8ZM484.1,405.8L487.5,402.5L495.9,400L499.3,403.4L495.9,406.7L487.5,409.2ZM492.6,403.4L495.9,400L504.4,397.6L507.8,401L504.4,404.4L495.9,406.7ZM501,401L504.4,397.6L512.8,395.5L516.1,398.8L512.8,402.2L504.4,404.4ZM509.4,398.8L512.8,395.5L521.2,393.5L524.6,396.9L521.2,400.2L512.8,402.2ZM517.9,396.9L521.2,393.5L529.7,391.5L533,394.8L529.7,398.2L521.2,400.2ZM526.3,394.8L529.7,391.5L538,389.1L541.4,392.5L538,395.9L529.7,398.2ZM534.6,392.5L538,389.1L545.5,386.5L548.8,389.8L545.5,393.2L538,395.9ZM542.1,389.8L545.5,386.5L552.8,383.4L556.1,386.7L552.8,390.1L545.5,393.2ZM549.4,386.7L552.8,383.4L560,380.1L563.4,383.5L560,386.9L552.8,390.1ZM556.6,383.5L560,380.1L567.1,376.6L570.4,379.9L567.1,383.3L560,386.9ZM563.7,379.9L567.1,376.6L574.2,373L577.6,376.4L574.2,379.8L567.1,383.3ZM570.9,376.4L574.2,373L581.8,370.2L585.2,373.6L581.8,376.9L574.2,379.8ZM578.5,373.6L581.8,370.2L589.6,367.9L592.9,371.3L589.6,374.6L581.8,376.9ZM586.2,371.3L589.6,367.9L597.4,365.7L600.8,369.1L597.4,372.4L589.6,374.6ZM594.1,369.1L597.4,365.7L605.2,363.4L608.6,366.8L605.2,370.2L597.4,372.4ZM601.9,366.8L605.2,363.4L613.6,360.8L617,364.1L613.6,367.5L605.2,370.2ZM610.3,364.1L613.6,360.8L622,358.1L625.4,361.4L622,364.8L613.6,367.5ZM618.7,361.4L622,358.1L630.4,355.4L633.8,358.7L630.4,362.1L622,364.8ZM627.1,358.7L630.4,355.4L638.8,352.6L642.1,356L638.8,359.4L630.4,362.1ZM635.4,356L638.8,352.6L647.2,349.9L650.6,353.2L647.2,356.6L638.8,359.4ZM643.9,353.2L647.2,349.9L655.6,347.1L659,350.5L655.6,353.8L647.2,356.6ZM652.3,350.5L655.6,347.1L664,344.3L667.4,347.7L664,351L655.6,353.8ZM660.7,347.7L664,344.3L672.4,341.4L675.8,344.8L672.4,348.2L664,351ZM669,344.8L672.4,341.4L679.9,338.8L683.3,342.2L679.9,345.5L672.4,348.2ZM676.6,342.2L679.9,338.8L687.5,336.2L690.8,339.6L687.5,342.9L679.9,345.5ZM684.1,339.6L687.5,336.2L695,333.6L698.3,336.9L695,340.3L687.5,342.9ZM691.6,336.9L695,333.6L702.5,330.9L705.9,334.2L702.5,337.6L695,340.3ZM699.2,334.2L702.5,330.9L710,328.1L713.4,331.5L710,334.9L702.5,337.6ZM706.6,331.5L710,328.1L717.9,325.3L721.2,328.6L717.9,332L710,334.9ZM714.5,328.6L717.9,325.3L725.7,322.4L729.1,325.7L725.7,329.1L717.9,332ZM722.4,325.7L725.7,322.4L733.6,319.5L736.9,322.9L733.6,326.2L725.7,329.1ZM730.2,322.9L733.6,319.5L741.4,316.6L744.8,320L741.4,323.3L733.6,326.2ZM738.1,320L741.4,316.6L749.3,313.7L752.6,317.1L749.3,320.4L741.4,323.3ZM745.9,317.1L749.3,313.7L757.2,310.8L760.5,314.2L757.2,317.5L749.3,320.4ZM753.8,314.2L757.2,310.8L765,307.9L768.4,311.3L765,314.6L757.2,317.5ZM761.7,311.3L765,307.9L772.9,305L776.2,308.4L772.9,311.7L765,314.6ZM769.5,308.4L772.9,305L780.7,302.1L784.1,305.5L780.7,308.8L772.9,311.7ZM777.4,305.5L780.7,302.1L788.6,299.2L791.9,302.6L788.6,305.9L780.7,308.8ZM785.2,302.6L788.6,299.2L796.4,296.3L799.8,299.7L796.4,303L788.6,305.9ZM793.1,299.7L796.4,296.3L804.3,293.4L807.6,296.8L804.3,300.1L796.4,303ZM800.9,296.8L804.3,293.4L812.1,290.5L815.5,293.9L812.1,297.2L804.3,300.1ZM808.8,293.9L812.1,290.5L820,287.6L823.4,291L820,294.4L812.1,297.2ZM816.6,291L820,287.6L828.1,284.7L831.4,288.1L828.1,291.4L820,294.4ZM824.7,288.1L828.1,284.7L836.1,281.7L839.5,285.1L836.1,288.4L828.1,291.4ZM832.8,285.1L836.1,281.7L844.2,278.8L847.5,282.1L844.2,285.5L836.1,288.4ZM840.8,282.1L844.2,278.8L852.2,275.8L855.6,279.2L852.2,282.5L844.2,285.5ZM848.9,279.2L852.2,275.8L860.3,272.9L863.7,276.2L860.3,279.6L852.2,282.5ZM857,276.2L860.3,272.9L868.4,269.9L871.7,273.3L868.4,276.6L860.3,279.6ZM865,273.3L868.4,269.9L876.4,267L879.8,270.3L876.4,273.7L868.4,276.6ZM873.1,270.3L876.4,267L884.5,264L887.9,267.4L884.5,270.7L876.4,273.7ZM881.2,267.4L884.5,264L892.6,261.1L895.9,264.5L892.6,267.8L884.5,270.7ZM889.2,264.5L892.6,261.1L900.7,258.2L904,261.5L900.7,264.9L892.6,267.8ZM897.3,261.5L900.7,258.2L908.7,255.3L912.1,258.6L908.7,262L900.7,264.9ZM905.4,258.6L908.7,255.3L916.8,252.4L920.2,255.7L916.8,259.1L908.7,262ZM913.5,255.7L916.8,252.4L924.9,249.5L928.3,252.9L924.9,256.2L916.8,259.1ZM921.6,252.9L924.9,249.5L933,246.7L936.4,250L933,253.3L924.9,256.2Z"/>
<use href="#mk" x="242.5" y="915"/>
<use href="#mk" x="262.5" y="896"/>
<use href="#mk" x="307.5" y="801.8"/>
<use href="#mk" x="398.5" y="474"/>
<use href="#mk" x="574.2" y="376.4"/>
<use href="#mk" x="933" y="250"/>
</g>
<line x1="857.6" y1="663.5" x2="955.9" y2="663.5" stroke="#006411" stroke-width="6.7"/>
<use href="#mk" x="905" y="663.5" fill="#006411"/>
<text class="tb" transform="translate(964.5 680.0) scale(0.9548 1)" font-size="52.7" stroke="#fff" stroke-width="0.5">ATCD5</text>
<line x1="857.6" y1="741.5" x2="955.9" y2="741.5" stroke="#DD0806" stroke-width="6.7"/>
<use href="#mk" x="905" y="741.5" fill="#DD0806"/>
<text class="tb" transform="translate(965.0 757.8) scale(0.9032 1)" font-size="52.7" stroke="#fff" stroke-width="0.5">RAW264</text>
<line x1="857.6" y1="819.2" x2="955.9" y2="819.2" stroke="#900000" stroke-width="6.7"/>
<use href="#mk" x="905" y="819.2" fill="#900000"/>
<text class="tb" transform="translate(965.0 835.7) scale(0.9327 1)" font-size="52.7" stroke="#fff" stroke-width="0.5">J774</text>
<line x1="1467.5" y1="68.3" x2="1467.5" y2="927" stroke="#000" stroke-width="3.4"/>
<line x1="1449" y1="909" x2="2394.2" y2="909" stroke="#000" stroke-width="3.4"/>
<line x1="1449" y1="70" x2="1467.5" y2="70" stroke="#000" stroke-width="3.4"/>
<text class="tb" transform="translate(1369.9 84.7) scale(0.9422 1)" font-size="52.7" stroke="#fff" stroke-width="0.5" clip-path="url(#f3)">14</text>
<line x1="1449" y1="189" x2="1467.5" y2="189" stroke="#000" stroke-width="3.4"/>
<text class="tb" transform="translate(1369.8 203.7) scale(0.9750 1)" font-size="52.7" stroke="#fff" stroke-width="0.5" clip-path="url(#f4)">12</text>
<line x1="1449" y1="310.5" x2="1467.5" y2="310.5" stroke="#000" stroke-width="3.4"/>
<text class="tb" transform="translate(1369.8 325.2) scale(0.9750 1)" font-size="52.7" stroke="#fff" stroke-width="0.5" clip-path="url(#f5)">10</text>
<line x1="1449" y1="428.5" x2="1467.5" y2="428.5" stroke="#000" stroke-width="3.4"/>
<text class="tb" transform="translate(1395.7 443.2) scale(1.0502 1)" font-size="52.7" stroke="#fff" stroke-width="0.5">8</text>
<line x1="1449" y1="550" x2="1467.5" y2="550" stroke="#000" stroke-width="3.4"/>
<text class="tb" transform="translate(1395.4 564.7) scale(1.0720 1)" font-size="52.7" stroke="#fff" stroke-width="0.5">6</text>
<line x1="1449" y1="668.5" x2="1467.5" y2="668.5" stroke="#000" stroke-width="3.4"/>
<text class="tb" transform="translate(1396.7 683.2) scale(0.9668 1)" font-size="52.7" stroke="#fff" stroke-width="0.5">4</text>
<line x1="1449" y1="790" x2="1467.5" y2="790" stroke="#000" stroke-width="3.4"/>
<text class="tb" transform="translate(1395.5 804.7) scale(1.0776 1)" font-size="52.7" stroke="#fff" stroke-width="0.5">2</text>
<line x1="1449" y1="909" x2="1467.5" y2="909" stroke="#000" stroke-width="3.4"/>
<text class="tb" transform="translate(1395.2 923.7) scale(1.0889 1)" font-size="52.7" stroke="#fff" stroke-width="0.5">0</text>
<line x1="1467.5" y1="909" x2="1467.5" y2="927" stroke="#000" stroke-width="3.4"/>
<text class="tb" transform="translate(1451.6 1004.0) scale(0.9835 1)" font-size="51.9" stroke="#fff" stroke-width="0.5">0</text>
<line x1="1653" y1="909" x2="1653" y2="927" stroke="#000" stroke-width="3.4"/>
<text class="tb" transform="translate(1623.2 1004.0) scale(0.9818 1)" font-size="51.9" stroke="#fff" stroke-width="0.5">50</text>
<line x1="1839" y1="909" x2="1839" y2="927" stroke="#000" stroke-width="3.4"/>
<text class="tb" transform="translate(1795.9 1004.0) scale(0.9432 1)" font-size="51.9" stroke="#fff" stroke-width="0.5" clip-path="url(#f6)">100</text>
<line x1="2021" y1="909" x2="2021" y2="927" stroke="#000" stroke-width="3.4"/>
<text class="tb" transform="translate(1977.9 1004.0) scale(0.9432 1)" font-size="51.9" stroke="#fff" stroke-width="0.5" clip-path="url(#f7)">150</text>
<line x1="2207" y1="909" x2="2207" y2="927" stroke="#000" stroke-width="3.4"/>
<text class="tb" transform="translate(2165.3 1004.0) scale(0.9269 1)" font-size="51.9" stroke="#fff" stroke-width="0.5">200</text>
<line x1="2392.5" y1="909" x2="2392.5" y2="927" stroke="#000" stroke-width="3.4"/>
<text class="tb" transform="translate(2350.8 1004.0) scale(0.9269 1)" font-size="51.9" stroke="#fff" stroke-width="0.5">250</text>
<text class="tb" transform="translate(1671.3 1093.0) scale(0.9482 1)" font-size="52.6" stroke="#fff" stroke-width="0.5">Concentration, ug/mL</text>
<text class="tb" transform="translate(1330.5 702.2) rotate(-90) scale(0.9361 1)" font-size="52.6" stroke="#fff" stroke-width="0.5">Cellular uptake, %</text>
<text class="tb" transform="translate(1510.7 81.7) scale(1.0378 1)" font-size="78.2">b</text>
<path d="M1490,709V752.5M1478.2,709h23.5M1478.2,752.5h23.5" stroke="#000" stroke-width="3.4" fill="none"/>
<path d="M1514.8,614V675M1503,614h23.5M1503,675h23.5" stroke="#000" stroke-width="3.4" fill="none"/>
<path d="M1561.8,418V523.5M1550,418h23.5M1550,523.5h23.5" stroke="#000" stroke-width="3.4" fill="none"/>
<path d="M1653.3,178.5V333.5M1641.5,178.5h23.5M1641.5,333.5h23.5" stroke="#000" stroke-width="3.4" fill="none"/>
<path d="M1841.8,101V273.5M1830,101h23.5M1830,273.5h23.5" stroke="#000" stroke-width="3.4" fill="none"/>
<path d="M2213.8,84V260M2202.1,84h23.5M2202.1,260h23.5" stroke="#000" stroke-width="3.4" fill="none"/>
<path d="M1514.8,749V780M1503,749h23.5M1503,780h23.5" stroke="#000" stroke-width="3.4" fill="none"/>
<path d="M1561.8,635V705M1550,635h23.5M1550,705h23.5" stroke="#000" stroke-width="3.4" fill="none"/>
<path d="M1653.3,504V577.5M1641.5,504h23.5M1641.5,577.5h23.5" stroke="#000" stroke-width="3.4" fill="none"/>
<path d="M1841.8,428.5V516M1830,428.5h23.5M1830,516h23.5" stroke="#000" stroke-width="3.4" fill="none"/>
<path d="M2213.8,347V452.5M2202.1,347h23.5M2202.1,452.5h23.5" stroke="#000" stroke-width="3.4" fill="none"/>
<path d="M1514.8,796.5V827.5M1503,796.5h23.5M1503,827.5h23.5" stroke="#000" stroke-width="3.4" fill="none"/>
<path d="M1561.8,654V702.5M1550,654h23.5M1550,702.5h23.5" stroke="#000" stroke-width="3.4" fill="none"/>
<path d="M1653.3,506V611M1641.5,506h23.5M1641.5,611h23.5" stroke="#000" stroke-width="3.4" fill="none"/>
<path d="M1841.8,428.5V553.5M1830,428.5h23.5M1830,553.5h23.5" stroke="#000" stroke-width="3.4" fill="none"/>
<path d="M2213.8,452.5V533.5M2202.1,452.5h23.5M2202.1,533.5h23.5" stroke="#000" stroke-width="3.4" fill="none"/>
<g fill="#006411">
<path d="M1485.4,906.8L1486.1,902L1489.5,898.7L1492.8,902L1492,906.8L1488.7,910.1ZM1486.1,902L1487,896.2L1490.3,892.8L1493.7,896.2L1492.8,902L1489.5,905.4ZM1487,896.2L1488,889.4L1491.3,886L1494.7,889.4L1493.7,896.2L1490.3,899.5ZM1488,889.4L1489,881.8L1492.4,878.4L1495.7,881.8L1494.7,889.4L1491.3,892.7ZM1489,881.8L1490.1,873.5L1493.5,870.1L1496.8,873.5L1495.7,881.8L1492.4,885.1ZM1490.1,873.5L1491.4,864.6L1494.7,861.3L1498.1,864.6L1496.8,873.5L1493.5,876.8ZM1491.4,864.6L1492.7,855.3L1496,851.9L1499.4,855.3L1498.1,864.6L1494.7,868ZM1492.7,855.3L1494.1,845.6L1497.4,842.3L1500.8,845.6L1499.4,855.3L1496,858.6ZM1494.1,845.6L1495.6,835.7L1498.9,832.4L1502.3,835.7L1500.8,845.6L1497.4,849ZM1495.6,835.7L1497.1,825.7L1500.5,822.4L1503.8,825.7L1502.3,835.7L1498.9,839.1ZM1497.1,825.7L1498.8,815.8L1502.1,812.5L1505.5,815.8L1503.8,825.7L1500.5,829.1ZM1498.8,815.8L1500.5,806L1503.8,802.7L1507.2,806L1505.5,815.8L1502.1,819.2ZM1500.5,806L1502.3,796.5L1505.6,793.1L1509,796.5L1507.2,806L1503.8,809.4ZM1502.3,796.5L1504.1,787.3L1507.5,784L1510.8,787.3L1509,796.5L1505.6,799.8ZM1504.1,787.3L1506.1,778.7L1509.4,775.4L1512.8,778.7L1510.8,787.3L1507.5,790.7ZM1506.1,778.7L1508.1,770.7L1511.4,767.4L1514.8,770.7L1512.8,778.7L1509.4,782.1ZM1508.1,770.7L1510.2,763.5L1513.5,760.1L1516.8,763.5L1514.8,770.7L1511.4,774.1ZM1510.2,763.5L1513.1,754.4L1516.5,751L1519.8,754.4L1516.8,763.5L1513.5,766.9ZM1513.1,754.4L1516.2,746.1L1519.5,742.8L1522.9,746.1L1519.8,754.4L1516.5,757.7ZM1516.2,746.1L1519.3,738.6L1522.6,735.3L1526,738.6L1522.9,746.1L1519.5,749.5ZM1519.3,738.6L1522.5,731.7L1525.9,728.3L1529.2,731.7L1526,738.6L1522.6,742ZM1522.5,731.7L1525.9,725.1L1529.3,721.7L1532.6,725.1L1529.2,731.7L1525.9,735ZM1525.9,725.1L1529.5,718.7L1532.8,715.4L1536.2,718.7L1532.6,725.1L1529.3,728.4ZM1529.5,718.7L1533.3,712.4L1536.6,709L1540,712.4L1536.2,718.7L1532.8,722.1ZM1533.3,712.4L1537.4,705.9L1540.7,702.6L1544.1,705.9L1540,712.4L1536.6,715.7ZM1537.4,705.9L1541.8,699.1L1545.1,695.8L1548.5,699.1L1544.1,705.9L1540.7,709.3ZM1541.8,699.1L1546.5,691.8L1549.8,688.5L1553.2,691.8L1548.5,699.1L1545.1,702.5ZM1546.5,691.8L1551.6,683.8L1555,680.5L1558.3,683.8L1553.2,691.8L1549.8,695.2ZM1551.6,683.8L1557.2,675L1560.5,671.6L1563.8,675L1558.3,683.8L1555,687.2ZM1557.2,675L1560.8,668.9L1564.1,665.6L1567.5,668.9L1563.8,675L1560.5,678.4ZM1560.8,668.9L1564.4,662.4L1567.8,659.1L1571.1,662.4L1567.5,668.9L1564.1,672.3ZM1564.4,662.4L1568.1,655.6L1571.4,652.3L1574.8,655.6L1571.1,662.4L1567.8,665.8ZM1568.1,655.6L1571.8,648.5L1575.1,645.2L1578.5,648.5L1574.8,655.6L1571.4,659ZM1571.8,648.5L1575.6,641.2L1578.9,637.8L1582.3,641.2L1578.5,648.5L1575.1,651.9ZM1575.6,641.2L1579.4,633.6L1582.8,630.3L1586.1,633.6L1582.3,641.2L1578.9,644.5ZM1579.4,633.6L1583.4,625.9L1586.8,622.6L1590.1,625.9L1586.1,633.6L1582.8,637ZM1583.4,625.9L1587.6,618.2L1590.9,614.8L1594.3,618.2L1590.1,625.9L1586.8,629.3ZM1587.6,618.2L1591.8,610.3L1595.2,607L1598.5,610.3L1594.3,618.2L1590.9,621.5ZM1591.8,610.3L1596.3,602.5L1599.7,599.1L1603,602.5L1598.5,610.3L1595.2,613.7ZM1596.3,602.5L1601,594.7L1604.3,591.4L1607.7,594.7L1603,602.5L1599.7,605.8ZM1601,594.7L1605.9,587L1609.3,583.7L1612.6,587L1607.7,594.7L1604.3,598.1ZM1605.9,587L1611.1,579.5L1614.4,576.1L1617.8,579.5L1612.6,587L1609.3,590.4ZM1611.1,579.5L1616.5,572.1L1619.9,568.8L1623.2,572.1L1617.8,579.5L1614.4,582.8ZM1616.5,572.1L1622.2,565L1625.6,561.7L1628.9,565L1623.2,572.1L1619.9,575.5ZM1622.2,565L1628.3,558.2L1631.7,554.9L1635,558.2L1628.9,565L1625.6,568.4ZM1628.3,558.2L1634.7,551.7L1638.1,548.4L1641.4,551.7L1638.1,555.1L1631.7,561.6ZM1634.7,551.7L1638.1,548.4L1644.8,542.3L1648.2,545.7L1644.8,549L1638.1,555.1ZM1641.5,545.7L1644.8,542.3L1652,536.6L1655.3,540L1652,543.4L1644.8,549ZM1648.7,540L1652,536.6L1658.1,532.3L1661.5,535.6L1658.1,539L1652,543.4ZM1654.8,535.6L1658.1,532.3L1664.2,528.2L1667.6,531.5L1664.2,534.9L1658.1,539ZM1660.9,531.5L1664.2,528.2L1670.4,524.2L1673.8,527.6L1670.4,530.9L1664.2,534.9ZM1667.1,527.6L1670.4,524.2L1676.7,520.5L1680.1,523.9L1676.7,527.2L1670.4,530.9ZM1673.4,523.9L1676.7,520.5L1683.1,517L1686.5,520.3L1683.1,523.7L1676.7,527.2ZM1679.8,520.3L1683.1,517L1689.6,513.6L1693,517L1689.6,520.3L1683.1,523.7ZM1686.3,517L1689.6,513.6L1696.3,510.4L1699.7,513.7L1696.3,517.1L1689.6,520.3ZM1693,513.7L1696.3,510.4L1703.2,507.3L1706.5,510.6L1703.2,514L1696.3,517.1ZM1699.8,510.6L1703.2,507.3L1710.2,504.3L1713.5,507.6L1710.2,511L1703.2,514ZM1706.8,507.6L1710.2,504.3L1717.4,501.4L1720.8,504.8L1717.4,508.1L1710.2,511ZM1714.1,504.8L1717.4,501.4L1724.9,498.6L1728.2,502L1724.9,505.3L1717.4,508.1ZM1721.5,502L1724.9,498.6L1732.6,495.9L1736,499.2L1732.6,502.6L1724.9,505.3ZM1729.3,499.2L1732.6,495.9L1740.6,493.2L1744,496.6L1740.6,499.9L1732.6,502.6ZM1737.3,496.6L1740.6,493.2L1748.9,490.6L1752.3,493.9L1748.9,497.3L1740.6,499.9ZM1745.6,493.9L1748.9,490.6L1757.5,487.9L1760.9,491.3L1757.5,494.6L1748.9,497.3ZM1754.2,491.3L1757.5,487.9L1766.5,485.3L1769.8,488.7L1766.5,492L1757.5,494.6ZM1763.1,488.7L1766.5,485.3L1775.8,482.7L1779.2,486L1775.8,489.4L1766.5,492ZM1772.5,486L1775.8,482.7L1785.5,480L1788.9,483.4L1785.5,486.7L1775.8,489.4ZM1782.2,483.4L1785.5,480L1795.6,477.3L1799,480.6L1795.6,484L1785.5,486.7ZM1792.3,480.6L1795.6,477.3L1806.1,474.5L1809.5,477.9L1806.1,481.2L1795.6,484ZM1802.8,477.9L1806.1,474.5L1817.1,471.7L1820.5,475L1817.1,478.4L1806.1,481.2ZM1813.8,475L1817.1,471.7L1828.6,468.7L1831.9,472.1L1828.6,475.4L1817.1,478.4ZM1825.2,472.1L1828.6,468.7L1840.5,465.6L1843.8,469L1840.5,472.4L1828.6,475.4ZM1837.2,469L1840.5,465.6L1847.2,464L1850.6,467.3L1847.2,470.7L1840.5,472.4ZM1843.9,467.3L1847.2,464L1854.3,462.2L1857.7,465.6L1854.3,468.9L1847.2,470.7ZM1851,465.6L1854.3,462.2L1861.8,460.5L1865.1,463.8L1861.8,467.2L1854.3,468.9ZM1858.4,463.8L1861.8,460.5L1869.5,458.7L1872.9,462L1869.5,465.4L1861.8,467.2ZM1866.2,462L1869.5,458.7L1877.6,456.9L1881,460.2L1877.6,463.6L1869.5,465.4ZM1874.3,460.2L1877.6,456.9L1886,455L1889.4,458.4L1886,461.7L1877.6,463.6ZM1882.7,458.4L1886,455L1894.7,453.1L1898.1,456.5L1894.7,459.8L1886,461.7ZM1891.4,456.5L1894.7,453.1L1903.6,451.2L1907,454.6L1903.6,457.9L1894.7,459.8ZM1900.3,454.6L1903.6,451.2L1912.8,449.3L1916.1,452.7L1912.8,456L1903.6,457.9ZM1909.4,452.7L1912.8,449.3L1922.2,447.4L1925.5,450.7L1922.2,454.1L1912.8,456ZM1918.8,450.7L1922.2,447.4L1931.7,445.4L1935.1,448.8L1931.7,452.1L1922.2,454.1ZM1928.4,448.8L1931.7,445.4L1941.4,443.5L1944.8,446.8L1941.4,450.2L1931.7,452.1ZM1938.1,446.8L1941.4,443.5L1951.3,441.5L1954.7,444.9L1951.3,448.2L1941.4,450.2ZM1948,444.9L1951.3,441.5L1961.3,439.6L1964.7,442.9L1961.3,446.3L1951.3,448.2ZM1958,442.9L1961.3,439.6L1971.4,437.6L1974.8,440.9L1971.4,444.3L1961.3,446.3ZM1968.1,440.9L1971.4,437.6L1981.6,435.6L1985,439L1981.6,442.3L1971.4,444.3ZM1978.3,439L1981.6,435.6L1991.9,433.7L1995.2,437L1991.9,440.4L1981.6,442.3ZM1988.5,437L1991.9,433.7L2002.2,431.7L2005.5,435.1L2002.2,438.4L1991.9,440.4ZM1998.8,435.1L2002.2,431.7L2012.5,429.8L2015.9,433.1L2012.5,436.5L2002.2,438.4ZM2009.2,433.1L2012.5,429.8L2022.8,427.8L2026.2,431.2L2022.8,434.5L2012.5,436.5ZM2019.5,431.2L2022.8,427.8L2033.1,425.9L2036.5,429.3L2033.1,432.6L2022.8,434.5ZM2029.8,429.3L2033.1,425.9L2043.4,424L2046.8,427.4L2043.4,430.7L2033.1,432.6ZM2040.1,427.4L2043.4,424L2053.6,422.1L2057,425.5L2053.6,428.8L2043.4,430.7ZM2050.3,425.5L2053.6,422.1L2063.7,420.3L2067.1,423.6L2063.7,427L2053.6,428.8ZM2060.4,423.6L2063.7,420.3L2073.8,418.4L2077.1,421.8L2073.8,425.1L2063.7,427ZM2070.4,421.8L2073.8,418.4L2083.6,416.6L2087,420L2083.6,423.3L2073.8,425.1ZM2080.3,420L2083.6,416.6L2093.4,414.9L2096.7,418.2L2093.4,421.6L2083.6,423.3ZM2090,418.2L2093.4,414.9L2103,413.1L2106.3,416.5L2103,419.8L2093.4,421.6ZM2099.6,416.5L2103,413.1L2112.4,411.4L2115.7,414.8L2112.4,418.1L2103,419.8ZM2109,414.8L2112.4,411.4L2121.6,409.8L2124.9,413.1L2121.6,416.5L2112.4,418.1ZM2118.2,413.1L2121.6,409.8L2130.5,408.2L2133.9,411.5L2130.5,414.9L2121.6,416.5ZM2127.2,411.5L2130.5,408.2L2139.2,406.6L2142.6,409.9L2139.2,413.3L2130.5,414.9ZM2135.9,409.9L2139.2,406.6L2147.7,405.1L2151,408.4L2147.7,411.8L2139.2,413.3ZM2144.3,408.4L2147.7,405.1L2155.8,403.6L2159.2,407L2155.8,410.3L2147.7,411.8ZM2152.5,407L2155.8,403.6L2163.6,402.2L2167,405.5L2163.6,408.9L2155.8,410.3ZM2160.3,405.5L2163.6,402.2L2171.1,400.8L2174.5,404.2L2171.1,407.5L2163.6,408.9ZM2167.8,404.2L2171.1,400.8L2178.3,399.5L2181.6,402.9L2178.3,406.2L2171.1,407.5ZM2174.9,402.9L2178.3,399.5L2185,398.3L2188.4,401.6L2185,405L2178.3,406.2ZM2181.7,401.6L2185,398.3L2191.4,397.1L2194.8,400.5L2191.4,403.8L2185,405ZM2188.1,400.5L2191.4,397.1L2197.4,396L2200.7,399.4L2197.4,402.7L2191.4,403.8ZM2194,399.4L2197.4,396L2202.9,395L2206.2,398.3L2202.9,401.7L2197.4,402.7ZM2199.5,398.3L2202.9,395L2207.9,394L2211.3,397.4L2207.9,400.7L2202.9,401.7ZM2204.6,397.4L2207.9,394L2212.5,393.1L2215.8,396.5L2212.5,399.9L2207.9,400.7Z"/>
<use href="#mk" x="1488.7" y="906.8"/>
<use href="#mk" x="1513.5" y="763.5"/>
<use href="#mk" x="1560.5" y="675"/>
<use href="#mk" x="1652" y="540"/>
<use href="#mk" x="1840.5" y="469"/>
<use href="#mk" x="2212.5" y="396.5"/>
</g>
<g fill="#DD0806">
<path d="M1485.4,906.8L1486.5,902.2L1489.8,898.9L1493.2,902.2L1492,906.8L1488.7,910.1ZM1486.5,902.2L1487.8,896.6L1491.1,893.3L1494.5,896.6L1493.2,902.2L1489.8,905.6ZM1487.8,896.6L1489.3,890.2L1492.6,886.8L1496,890.2L1494.5,896.6L1491.1,900ZM1489.3,890.2L1491,882.9L1494.3,879.6L1497.7,882.9L1496,890.2L1492.6,893.5ZM1491,882.9L1492.8,875L1496.2,871.6L1499.5,875L1497.7,882.9L1494.3,886.3ZM1492.8,875L1494.8,866.5L1498.2,863.1L1501.5,866.5L1499.5,875L1496.2,878.3ZM1494.8,866.5L1497,857.5L1500.3,854.2L1503.7,857.5L1501.5,866.5L1498.2,869.8ZM1497,857.5L1499.3,848.2L1502.7,844.8L1506,848.2L1503.7,857.5L1500.3,860.9ZM1499.3,848.2L1501.8,838.5L1505.2,835.2L1508.5,838.5L1506,848.2L1502.7,851.5ZM1501.8,838.5L1504.4,828.7L1507.8,825.4L1511.1,828.7L1508.5,838.5L1505.2,841.9ZM1504.4,828.7L1507.2,818.9L1510.6,815.5L1513.9,818.9L1511.1,828.7L1507.8,832.1ZM1507.2,818.9L1510.2,809L1513.5,805.6L1516.8,809L1513.9,818.9L1510.6,822.2ZM1510.2,809L1512.3,801.9L1515.6,798.6L1519,801.9L1516.8,809L1513.5,812.4ZM1512.3,801.9L1514.4,794.5L1517.7,791.2L1521.1,794.5L1519,801.9L1515.6,805.3ZM1514.4,794.5L1516.5,786.8L1519.9,783.5L1523.2,786.8L1521.1,794.5L1517.7,797.9ZM1516.5,786.8L1518.7,778.9L1522.1,775.6L1525.4,778.9L1523.2,786.8L1519.9,790.2ZM1518.7,778.9L1521,770.8L1524.3,767.5L1527.7,770.8L1525.4,778.9L1522.1,782.3ZM1521,770.8L1523.3,762.6L1526.7,759.2L1530,762.6L1527.7,770.8L1524.3,774.2ZM1523.3,762.6L1525.7,754.2L1529.1,750.8L1532.4,754.2L1530,762.6L1526.7,765.9ZM1525.7,754.2L1528.2,745.7L1531.5,742.3L1534.9,745.7L1532.4,754.2L1529.1,757.5ZM1528.2,745.7L1530.8,737.1L1534.1,733.8L1537.5,737.1L1534.9,745.7L1531.5,749ZM1530.8,737.1L1533.5,728.6L1536.9,725.3L1540.2,728.6L1537.5,737.1L1534.1,740.5ZM1533.5,728.6L1536.4,720.1L1539.7,716.7L1543.1,720.1L1540.2,728.6L1536.9,732ZM1536.4,720.1L1539.4,711.6L1542.7,708.3L1546.1,711.6L1543.1,720.1L1539.7,723.4ZM1539.4,711.6L1542.6,703.2L1545.9,699.9L1549.3,703.2L1546.1,711.6L1542.7,715ZM1542.6,703.2L1545.9,695L1549.3,691.7L1552.6,695L1549.3,703.2L1545.9,706.6ZM1545.9,695L1549.4,687L1552.8,683.6L1556.1,687L1552.6,695L1549.3,698.4ZM1549.4,687L1553.2,679.1L1556.5,675.8L1559.9,679.1L1556.1,687L1552.8,690.3ZM1553.2,679.1L1557.2,671.5L1560.5,668.1L1563.8,671.5L1559.9,679.1L1556.5,682.5ZM1557.2,671.5L1561.2,664L1564.6,660.7L1567.9,664L1563.8,671.5L1560.5,674.9ZM1561.2,664L1565.3,656.5L1568.6,653.2L1572,656.5L1567.9,664L1564.6,667.4ZM1565.3,656.5L1569.4,649.1L1572.7,645.7L1576.1,649.1L1572,656.5L1568.6,659.9ZM1569.4,649.1L1573.6,641.6L1576.9,638.3L1580.3,641.6L1576.1,649.1L1572.7,652.4ZM1573.6,641.6L1577.8,634.2L1581.2,630.9L1584.5,634.2L1580.3,641.6L1576.9,645ZM1577.8,634.2L1582.2,626.9L1585.6,623.5L1588.9,626.9L1584.5,634.2L1581.2,637.6ZM1582.2,626.9L1586.8,619.6L1590.2,616.2L1593.5,619.6L1588.9,626.9L1585.6,630.2ZM1586.8,619.6L1591.6,612.4L1594.9,609.1L1598.3,612.4L1593.5,619.6L1590.2,622.9ZM1591.6,612.4L1596.6,605.4L1599.9,602L1603.3,605.4L1598.3,612.4L1594.9,615.8ZM1596.6,605.4L1601.8,598.4L1605.2,595.1L1608.5,598.4L1603.3,605.4L1599.9,608.7ZM1601.8,598.4L1607.4,591.7L1610.7,588.3L1614.1,591.7L1608.5,598.4L1605.2,601.8ZM1607.4,591.7L1613.3,585L1616.6,581.7L1620,585L1614.1,591.7L1610.7,595ZM1613.3,585L1619.5,578.6L1622.9,575.2L1626.2,578.6L1620,585L1616.6,588.4ZM1619.5,578.6L1622.9,575.2L1629.5,569L1632.8,572.4L1629.5,575.7L1622.9,581.9ZM1626.1,572.4L1629.5,569L1636.5,563L1639.9,566.3L1636.5,569.7L1629.5,575.7ZM1633.2,566.3L1636.5,563L1644,557.2L1647.4,560.5L1644,563.9L1636.5,569.7ZM1640.7,560.5L1644,557.2L1652,551.6L1655.3,555L1652,558.4L1644,563.9ZM1648.7,555L1652,551.6L1658.1,547.7L1661.5,551L1658.1,554.4L1652,558.4ZM1654.8,551L1658.1,547.7L1664.2,543.8L1667.6,547.2L1664.2,550.5L1658.1,554.4ZM1660.9,547.2L1664.2,543.8L1670.4,540.1L1673.8,543.4L1670.4,546.8L1664.2,550.5ZM1667.1,543.4L1670.4,540.1L1676.7,536.4L1680.1,539.8L1676.7,543.1L1670.4,546.8ZM1673.4,539.8L1676.7,536.4L1683.1,532.9L1686.5,536.2L1683.1,539.6L1676.7,543.1ZM1679.8,536.2L1683.1,532.9L1689.6,529.4L1693,532.8L1689.6,536.1L1683.1,539.6ZM1686.3,532.8L1689.6,529.4L1696.3,526L1699.7,529.4L1696.3,532.7L1689.6,536.1ZM1693,529.4L1696.3,526L1703.2,522.8L1706.5,526.1L1703.2,529.5L1696.3,532.7ZM1699.8,526.1L1703.2,522.8L1710.2,519.6L1713.5,522.9L1710.2,526.3L1703.2,529.5ZM1706.8,522.9L1710.2,519.6L1717.4,516.5L1720.8,519.8L1717.4,523.2L1710.2,526.3ZM1714.1,519.8L1717.4,516.5L1724.9,513.5L1728.2,516.8L1724.9,520.2L1717.4,523.2ZM1721.5,516.8L1724.9,513.5L1732.6,510.6L1736,513.9L1732.6,517.3L1724.9,520.2ZM1729.3,513.9L1732.6,510.6L1740.6,507.8L1744,511.1L1740.6,514.5L1732.6,517.3ZM1737.3,511.1L1740.6,507.8L1748.9,505L1752.3,508.4L1748.9,511.7L1740.6,514.5ZM1745.6,508.4L1748.9,505L1757.5,502.4L1760.9,505.7L1757.5,509.1L1748.9,511.7ZM1754.2,505.7L1757.5,502.4L1766.5,499.8L1769.8,503.2L1766.5,506.5L1757.5,509.1ZM1763.1,503.2L1766.5,499.8L1775.8,497.3L1779.2,500.7L1775.8,504L1766.5,506.5ZM1772.5,500.7L1775.8,497.3L1785.5,494.9L1788.9,498.3L1785.5,501.6L1775.8,504ZM1782.2,498.3L1785.5,494.9L1795.6,492.6L1799,496L1795.6,499.3L1785.5,501.6ZM1792.3,496L1795.6,492.6L1806.1,490.4L1809.5,493.7L1806.1,497.1L1795.6,499.3ZM1802.8,493.7L1806.1,490.4L1817.1,488.2L1820.5,491.6L1817.1,494.9L1806.1,497.1ZM1813.8,491.6L1817.1,488.2L1828.6,486.1L1831.9,489.5L1828.6,492.8L1817.1,494.9ZM1825.2,489.5L1828.6,486.1L1840.5,484.1L1843.8,487.5L1840.5,490.9L1828.6,492.8ZM1837.2,487.5L1840.5,484.1L1847.4,483.1L1850.7,486.4L1847.4,489.8L1840.5,490.9ZM1844,486.4L1847.4,483.1L1854.7,482.1L1858,485.4L1854.7,488.8L1847.4,489.8ZM1851.3,485.4L1854.7,482.1L1862.3,481.1L1865.7,484.5L1862.3,487.8L1854.7,488.8ZM1859,484.5L1862.3,481.1L1870.3,480.2L1873.7,483.5L1870.3,486.9L1862.3,487.8ZM1867,483.5L1870.3,480.2L1878.6,479.3L1882,482.6L1878.6,486L1870.3,486.9ZM1875.3,482.6L1878.6,479.3L1887.3,478.4L1890.6,481.7L1887.3,485.1L1878.6,486ZM1883.9,481.7L1887.3,478.4L1896.2,477.5L1899.5,480.9L1896.2,484.2L1887.3,485.1ZM1892.8,480.9L1896.2,477.5L1905.4,476.7L1908.7,480.1L1905.4,483.4L1896.2,484.2ZM1902,480.1L1905.4,476.7L1914.8,475.9L1918.1,479.3L1914.8,482.6L1905.4,483.4ZM1911.4,479.3L1914.8,475.9L1924.4,475.2L1927.8,478.5L1924.4,481.9L1914.8,482.6ZM1921.1,478.5L1924.4,475.2L1934.3,474.5L1937.6,477.8L1934.3,481.2L1924.4,481.9ZM1930.9,477.8L1934.3,474.5L1944.3,473.8L1947.6,477.1L1944.3,480.5L1934.3,481.2ZM1940.9,477.1L1944.3,473.8L1954.4,473.1L1957.8,476.5L1954.4,479.8L1944.3,480.5ZM1951.1,476.5L1954.4,473.1L1964.7,472.5L1968,475.8L1964.7,479.2L1954.4,479.8ZM1961.3,475.8L1964.7,472.5L1975.1,471.9L1978.4,475.2L1975.1,478.6L1964.7,479.2ZM1971.7,475.2L1975.1,471.9L1985.5,471.3L1988.9,474.6L1985.5,478L1975.1,478.6ZM1982.2,474.6L1985.5,471.3L1996.1,470.7L1999.4,474.1L1996.1,477.4L1985.5,478ZM1992.7,474.1L1996.1,470.7L2006.6,470.2L2010,473.5L2006.6,476.9L1996.1,477.4ZM2003.3,473.5L2006.6,470.2L2017.2,469.7L2020.5,473L2017.2,476.4L2006.6,476.9ZM2013.8,473L2017.2,469.7L2027.7,469.2L2031.1,472.5L2027.7,475.9L2017.2,476.4ZM2024.4,472.5L2027.7,469.2L2038.3,468.7L2041.6,472L2038.3,475.4L2027.7,475.9ZM2034.9,472L2038.3,468.7L2048.8,468.2L2052.1,471.6L2048.8,474.9L2038.3,475.4ZM2045.4,471.6L2048.8,468.2L2059.2,467.8L2062.5,471.1L2059.2,474.5L2048.8,474.9ZM2055.8,471.1L2059.2,467.8L2069.5,467.4L2072.8,470.7L2069.5,474.1L2059.2,474.5ZM2066.1,470.7L2069.5,467.4L2079.7,466.9L2083,470.3L2079.7,473.6L2069.5,474.1ZM2076.3,470.3L2079.7,466.9L2089.7,466.6L2093,469.9L2089.7,473.3L2079.7,473.6ZM2086.3,469.9L2089.7,466.6L2099.6,466.2L2102.9,469.5L2099.6,472.9L2089.7,473.3ZM2096.2,469.5L2099.6,466.2L2109.3,465.8L2112.6,469.2L2109.3,472.5L2099.6,472.9ZM2105.9,469.2L2109.3,465.8L2118.7,465.5L2122.1,468.8L2118.7,472.2L2109.3,472.5ZM2115.4,468.8L2118.7,465.5L2128,465.1L2131.3,468.5L2128,471.8L2118.7,472.2ZM2124.6,468.5L2128,465.1L2137,464.8L2140.3,468.1L2137,471.5L2128,471.8ZM2133.6,468.1L2137,464.8L2145.7,464.5L2149,467.8L2145.7,471.2L2137,471.5ZM2142.3,467.8L2145.7,464.5L2154.1,464.2L2157.4,467.5L2154.1,470.9L2145.7,471.2ZM2150.7,467.5L2154.1,464.2L2162.2,463.9L2165.5,467.2L2162.2,470.6L2154.1,470.9ZM2158.8,467.2L2162.2,463.9L2169.9,463.6L2173.3,466.9L2169.9,470.3L2162.2,470.6ZM2166.6,466.9L2169.9,463.6L2177.3,463.3L2180.6,466.6L2177.3,470L2169.9,470.3ZM2173.9,466.6L2177.3,463.3L2184.3,463L2187.6,466.4L2184.3,469.7L2177.3,470ZM2180.9,466.4L2184.3,463L2190.8,462.7L2194.2,466.1L2190.8,469.4L2184.3,469.7ZM2187.5,466.1L2190.8,462.7L2196.9,462.5L2200.3,465.8L2196.9,469.2L2190.8,469.4ZM2193.6,465.8L2196.9,462.5L2202.6,462.2L2206,465.5L2202.6,468.9L2196.9,469.2ZM2199.3,465.5L2202.6,462.2L2207.8,461.9L2211.2,465.3L2207.8,468.6L2202.6,468.9ZM2204.5,465.3L2207.8,461.9L2212.5,461.6L2215.8,465L2212.5,468.4L2207.8,468.6Z"/>
<use href="#mk" x="1488.7" y="906.8"/>
<use href="#mk" x="1513.5" y="809"/>
<use href="#mk" x="1560.5" y="671.5"/>
<use href="#mk" x="1652" y="555"/>
<use href="#mk" x="1840.5" y="487.5"/>
<use href="#mk" x="2212.5" y="465"/>
</g>
<g fill="#900000">
<path d="M1485.4,731L1486.6,726.7L1489.9,723.3L1493.3,726.7L1492,731L1488.7,734.4ZM1486.6,726.7L1488,721.6L1491.4,718.2L1494.7,721.6L1493.3,726.7L1489.9,730ZM1488,721.6L1489.7,715.7L1493.1,712.4L1496.4,715.7L1494.7,721.6L1491.4,724.9ZM1489.7,715.7L1491.6,709.2L1495,705.9L1498.3,709.2L1496.4,715.7L1493.1,719.1ZM1491.6,709.2L1493.7,701.9L1497,698.6L1500.4,701.9L1498.3,709.2L1495,712.6ZM1493.7,701.9L1496,694L1499.3,690.6L1502.7,694L1500.4,701.9L1497,705.3ZM1496,694L1498.5,685.3L1501.8,681.9L1505.2,685.3L1502.7,694L1499.3,697.3ZM1498.5,685.3L1501.1,675.9L1504.5,672.5L1507.8,675.9L1505.2,685.3L1501.8,688.6ZM1501.1,675.9L1504,665.8L1507.3,662.4L1510.7,665.8L1507.8,675.9L1504.5,679.2ZM1504,665.8L1507,655L1510.3,651.6L1513.7,655L1510.7,665.8L1507.3,669.1ZM1507,655L1510.2,643.5L1513.5,640.1L1516.8,643.5L1513.7,655L1510.3,658.3ZM1510.2,643.5L1511.9,636.8L1515.3,633.5L1518.6,636.8L1516.8,643.5L1513.5,646.9ZM1511.9,636.8L1513.8,629.9L1517.1,626.5L1520.5,629.9L1518.6,636.8L1515.3,640.2ZM1513.8,629.9L1515.6,622.6L1518.9,619.3L1522.3,622.6L1520.5,629.9L1517.1,633.2ZM1515.6,622.6L1517.4,615.1L1520.8,611.8L1524.1,615.1L1522.3,622.6L1518.9,626ZM1517.4,615.1L1519.3,607.4L1522.6,604L1526,607.4L1524.1,615.1L1520.8,618.5ZM1519.3,607.4L1521.2,599.4L1524.6,596L1527.9,599.4L1526,607.4L1522.6,610.7ZM1521.2,599.4L1523.2,591.1L1526.5,587.8L1529.9,591.1L1527.9,599.4L1524.6,602.7ZM1523.2,591.1L1525.2,582.7L1528.6,579.4L1531.9,582.7L1529.9,591.1L1526.5,594.5ZM1525.2,582.7L1527.3,574.1L1530.7,570.7L1534,574.1L1531.9,582.7L1528.6,586.1ZM1527.3,574.1L1529.5,565.3L1532.8,561.9L1536.2,565.3L1534,574.1L1530.7,577.4ZM1529.5,565.3L1531.7,556.3L1535.1,553L1538.4,556.3L1536.2,565.3L1532.8,568.6ZM1531.7,556.3L1534.1,547.2L1537.4,543.9L1540.8,547.2L1538.4,556.3L1535.1,559.7ZM1534.1,547.2L1536.5,538L1539.9,534.6L1543.2,538L1540.8,547.2L1537.4,550.6ZM1536.5,538L1539.1,528.6L1542.4,525.3L1545.8,528.6L1543.2,538L1539.9,541.3ZM1539.1,528.6L1541.8,519.2L1545.1,515.8L1548.5,519.2L1545.8,528.6L1542.4,532ZM1541.8,519.2L1544.5,509.6L1547.9,506.3L1551.2,509.6L1548.5,519.2L1545.1,522.5ZM1544.5,509.6L1547.5,500L1550.8,496.7L1554.2,500L1551.2,509.6L1547.9,513ZM1547.5,500L1550.5,490.4L1553.9,487L1557.2,490.4L1554.2,500L1550.8,503.4ZM1550.5,490.4L1553.8,480.7L1557.1,477.4L1560.5,480.7L1557.2,490.4L1553.9,493.7ZM1553.8,480.7L1557.2,471L1560.5,467.6L1563.8,471L1560.5,480.7L1557.1,484.1ZM1557.2,471L1559.7,463.7L1563.1,460.3L1566.4,463.7L1563.8,471L1560.5,474.4ZM1559.7,463.7L1562.3,456L1565.6,452.7L1569,456L1566.4,463.7L1563.1,467ZM1562.3,456L1564.8,448.1L1568.2,444.8L1571.5,448.1L1569,456L1565.6,459.4ZM1564.8,448.1L1567.4,440L1570.8,436.6L1574.1,440L1571.5,448.1L1568.2,451.5ZM1567.4,440L1570,431.7L1573.4,428.3L1576.7,431.7L1574.1,440L1570.8,443.3ZM1570,431.7L1572.6,423.1L1576,419.8L1579.3,423.1L1576.7,431.7L1573.4,435ZM1572.6,423.1L1575.3,414.5L1578.6,411.1L1582,414.5L1579.3,423.1L1576,426.5ZM1575.3,414.5L1578,405.7L1581.4,402.4L1584.7,405.7L1582,414.5L1578.6,417.8ZM1578,405.7L1580.8,396.9L1584.1,393.5L1587.5,396.9L1584.7,405.7L1581.4,409.1ZM1580.8,396.9L1583.6,388L1586.9,384.6L1590.3,388L1587.5,396.9L1584.1,400.2ZM1583.6,388L1586.5,379L1589.8,375.7L1593.2,379L1590.3,388L1586.9,391.3ZM1586.5,379L1589.4,370.1L1592.8,366.7L1596.1,370.1L1593.2,379L1589.8,382.4ZM1589.4,370.1L1592.5,361.1L1595.8,357.8L1599.2,361.1L1596.1,370.1L1592.8,373.4ZM1592.5,361.1L1595.6,352.3L1599,348.9L1602.3,352.3L1599.2,361.1L1595.8,364.5ZM1595.6,352.3L1598.9,343.5L1602.2,340.1L1605.6,343.5L1602.3,352.3L1599,355.6ZM1598.9,343.5L1602.2,334.8L1605.6,331.5L1608.9,334.8L1605.6,343.5L1602.2,346.8ZM1602.2,334.8L1605.7,326.3L1609.1,322.9L1612.4,326.3L1608.9,334.8L1605.6,338.2ZM1605.7,326.3L1609.3,317.9L1612.7,314.6L1616,317.9L1612.4,326.3L1609.1,329.6ZM1609.3,317.9L1613,309.7L1616.4,306.4L1619.7,309.7L1616,317.9L1612.7,321.3ZM1613,309.7L1616.9,301.8L1620.3,298.5L1623.6,301.8L1619.7,309.7L1616.4,313.1ZM1616.9,301.8L1620.9,294.1L1624.3,290.8L1627.6,294.1L1623.6,301.8L1620.3,305.2ZM1620.9,294.1L1625.1,286.7L1628.5,283.4L1631.8,286.7L1627.6,294.1L1624.3,297.5ZM1625.1,286.7L1629.5,279.6L1632.8,276.3L1636.2,279.6L1631.8,286.7L1628.5,290.1ZM1629.5,279.6L1634,272.9L1637.3,269.5L1640.7,272.9L1636.2,279.6L1632.8,283ZM1634,272.9L1638.7,266.5L1642,263.2L1645.4,266.5L1640.7,272.9L1637.3,276.2ZM1638.7,266.5L1643.6,260.5L1646.9,257.2L1650.3,260.5L1645.4,266.5L1642,269.9ZM1643.6,260.5L1648.7,255L1652,251.7L1655.3,255L1650.3,260.5L1646.9,263.9ZM1648.7,255L1657.6,246L1661,249.4L1652,258.4ZM1654.3,249.4L1657.6,246L1663.5,240.6L1666.8,243.9L1663.5,247.3L1657.6,252.7ZM1660.1,243.9L1663.5,240.6L1669.5,235.3L1672.8,238.7L1669.5,242L1663.5,247.3ZM1666.1,238.7L1669.5,235.3L1675.7,230.3L1679.1,233.7L1675.7,237L1669.5,242ZM1672.4,233.7L1675.7,230.3L1682.2,225.7L1685.5,229.1L1682.2,232.4L1675.7,237ZM1678.8,229.1L1682.2,225.7L1688.9,221.5L1692.2,224.8L1688.9,228.2L1682.2,232.4ZM1685.6,224.8L1688.9,221.5L1695.9,217.7L1699.3,221L1695.9,224.4L1688.9,228.2ZM1692.6,221L1695.9,217.7L1703.2,214.3L1706.5,217.7L1703.2,221L1695.9,224.4ZM1699.8,217.7L1703.2,214.3L1710.6,211.4L1714,214.7L1710.6,218.1L1703.2,221ZM1707.3,214.7L1710.6,211.4L1718.2,208.6L1721.5,212L1718.2,215.3L1710.6,218.1ZM1714.8,212L1718.2,208.6L1725.8,206.1L1729.1,209.4L1725.8,212.8L1718.2,215.3ZM1722.4,209.4L1725.8,206.1L1733.4,203.6L1736.8,206.9L1733.4,210.2L1725.8,212.8ZM1730.1,206.9L1733.4,203.6L1740.7,201.2L1744.1,204.6L1740.7,207.9L1733.4,210.2ZM1737.4,204.6L1740.7,201.2L1748.1,199L1751.4,202.4L1748.1,205.7L1740.7,207.9ZM1744.7,202.4L1748.1,199L1755.5,197L1758.8,200.3L1755.5,203.7L1748.1,205.7ZM1752.1,200.3L1755.5,197L1762.9,195.1L1766.3,198.4L1762.9,201.8L1755.5,203.7ZM1759.6,198.4L1762.9,195.1L1770.4,193.3L1773.8,196.7L1770.4,200L1762.9,201.8ZM1767.1,196.7L1770.4,193.3L1777.9,191.7L1781.2,195L1777.9,198.3L1770.4,200ZM1774.6,195L1777.9,191.7L1785.3,190.3L1788.6,193.6L1785.3,197L1777.9,198.3ZM1781.9,193.6L1785.3,190.3L1792.7,189.2L1796,192.5L1792.7,195.9L1785.3,197ZM1789.3,192.5L1792.7,189.2L1800.1,188.2L1803.5,191.5L1800.1,194.9L1792.7,195.9ZM1796.8,191.5L1800.1,188.2L1807.6,187.2L1810.9,190.5L1807.6,193.9L1800.1,194.9ZM1804.2,190.5L1807.6,187.2L1815,186L1818.3,189.3L1815,192.7L1807.6,193.9ZM1811.7,189.3L1815,186L1823.5,184L1826.9,187.4L1823.5,190.7L1815,192.7ZM1820.2,187.4L1823.5,184L1832,181.9L1835.3,185.2L1832,188.6L1823.5,190.7ZM1828.6,185.2L1832,181.9L1840.5,180.2L1843.8,183.5L1840.5,186.8L1832,188.6ZM1837.2,183.5L1840.5,180.2L1847.4,179.2L1850.7,182.5L1847.4,185.9L1840.5,186.8ZM1844,182.5L1847.4,179.2L1854.7,178.2L1858,181.6L1854.7,184.9L1847.4,185.9ZM1851.3,181.6L1854.7,178.2L1862.3,177.4L1865.7,180.7L1862.3,184.1L1854.7,184.9ZM1859,180.7L1862.3,177.4L1870.3,176.5L1873.7,179.9L1870.3,183.2L1862.3,184.1ZM1867,179.9L1870.3,176.5L1878.6,175.8L1882,179.1L1878.6,182.5L1870.3,183.2ZM1875.3,179.1L1878.6,175.8L1887.3,175.1L1890.6,178.4L1887.3,181.8L1878.6,182.5ZM1883.9,178.4L1887.3,175.1L1896.2,174.4L1899.5,177.7L1896.2,181.1L1887.3,181.8ZM1892.8,177.7L1896.2,174.4L1905.4,173.8L1908.7,177.1L1905.4,180.5L1896.2,181.1ZM1902,177.1L1905.4,173.8L1914.8,173.2L1918.1,176.5L1914.8,179.9L1905.4,180.5ZM1911.4,176.5L1914.8,173.2L1924.4,172.6L1927.8,176L1924.4,179.3L1914.8,179.9ZM1921.1,176L1924.4,172.6L1934.3,172.1L1937.6,175.5L1934.3,178.8L1924.4,179.3ZM1930.9,175.5L1934.3,172.1L1944.3,171.7L1947.6,175L1944.3,178.4L1934.3,178.8ZM1940.9,175L1944.3,171.7L1954.4,171.2L1957.8,174.6L1954.4,177.9L1944.3,178.4ZM1951.1,174.6L1954.4,171.2L1964.7,170.9L1968,174.2L1964.7,177.6L1954.4,177.9ZM1961.3,174.2L1964.7,170.9L1975.1,170.5L1978.4,173.8L1975.1,177.2L1964.7,177.6ZM1971.7,173.8L1975.1,170.5L1985.5,170.2L1988.9,173.5L1985.5,176.9L1975.1,177.2ZM1982.2,173.5L1985.5,170.2L1996.1,169.9L1999.4,173.2L1996.1,176.6L1985.5,176.9ZM1992.7,173.2L1996.1,169.9L2006.6,169.6L2010,172.9L2006.6,176.3L1996.1,176.6ZM2003.3,172.9L2006.6,169.6L2017.2,169.4L2020.5,172.7L2017.2,176.1L2006.6,176.3ZM2013.8,172.7L2017.2,169.4L2027.7,169.1L2031.1,172.5L2027.7,175.8L2017.2,176.1ZM2024.4,172.5L2027.7,169.1L2038.3,168.9L2041.6,172.3L2038.3,175.6L2027.7,175.8ZM2034.9,172.3L2038.3,168.9L2048.8,168.8L2052.1,172.1L2048.8,175.5L2038.3,175.6ZM2045.4,172.1L2048.8,168.8L2059.2,168.6L2062.5,171.9L2059.2,175.3L2048.8,175.5ZM2055.8,171.9L2059.2,168.6L2069.5,168.4L2072.8,171.8L2069.5,175.1L2059.2,175.3ZM2066.1,171.8L2069.5,168.4L2079.7,168.3L2083,171.7L2079.7,175L2069.5,175.1ZM2076.3,171.7L2079.7,168.3L2089.7,168.2L2093,171.6L2089.7,174.9L2079.7,175ZM2086.3,171.6L2089.7,168.2L2099.6,168.1L2102.9,171.4L2099.6,174.8L2089.7,174.9ZM2096.2,171.4L2099.6,168.1L2109.3,168L2112.6,171.4L2109.3,174.7L2099.6,174.8ZM2105.9,171.4L2109.3,168L2118.7,167.9L2122.1,171.3L2118.7,174.6L2109.3,174.7ZM2115.4,171.3L2118.7,167.9L2128,167.8L2131.3,171.2L2128,174.5L2118.7,174.6ZM2124.6,171.2L2128,167.8L2137,167.8L2140.3,171.1L2137,174.5L2128,174.5ZM2133.6,171.1L2137,167.8L2145.7,167.7L2149,171L2145.7,174.4L2137,174.5ZM2142.3,171L2145.7,167.7L2154.1,167.6L2157.4,171L2154.1,174.3L2145.7,174.4ZM2150.7,171L2154.1,167.6L2162.2,167.5L2165.5,170.9L2162.2,174.2L2154.1,174.3ZM2158.8,170.9L2162.2,167.5L2169.9,167.4L2173.3,170.8L2169.9,174.1L2162.2,174.2ZM2166.6,170.8L2169.9,167.4L2177.3,167.4L2180.6,170.7L2177.3,174.1L2169.9,174.1ZM2173.9,170.7L2177.3,167.4L2184.3,167.3L2187.6,170.6L2184.3,174L2177.3,174.1ZM2180.9,170.6L2184.3,167.3L2190.8,167.2L2194.2,170.5L2190.8,173.9L2184.3,174ZM2187.5,170.5L2190.8,167.2L2196.9,167.1L2200.3,170.4L2196.9,173.8L2190.8,173.9ZM2193.6,170.4L2196.9,167.1L2202.6,166.9L2206,170.3L2202.6,173.6L2196.9,173.8ZM2199.3,170.3L2202.6,166.9L2207.8,166.8L2211.2,170.2L2207.8,173.5L2202.6,173.6ZM2204.5,170.2L2207.8,166.8L2212.5,166.7L2215.8,170L2212.5,173.3L2207.8,173.5Z"/>
<use href="#mk" x="1488.7" y="731"/>
<use href="#mk" x="1513.5" y="643.5"/>
<use href="#mk" x="1560.5" y="471"/>
<use href="#mk" x="1652" y="255"/>
<use href="#mk" x="1840.5" y="183.5"/>
<use href="#mk" x="2212.5" y="170"/>
</g>
<line x1="2138.5" y1="667.5" x2="2236" y2="667.5" stroke="#006411" stroke-width="6.7"/>
<use href="#mk" x="2185" y="667.5" fill="#006411"/>
<text class="tb" transform="translate(2244.5 684.0) scale(0.9520 1)" font-size="52.7" stroke="#fff" stroke-width="0.5">ATCD5</text>
<line x1="2138.5" y1="745" x2="2236" y2="745" stroke="#DD0806" stroke-width="6.7"/>
<use href="#mk" x="2185" y="745" fill="#DD0806"/>
<text class="tb" transform="translate(2245.0 761.5) scale(0.9008 1)" font-size="52.7" stroke="#fff" stroke-width="0.5">RAW264</text>
<line x1="2138.5" y1="822.5" x2="2236" y2="822.5" stroke="#900000" stroke-width="6.7"/>
<use href="#mk" x="2185" y="822.5" fill="#900000"/>
<text class="tb" transform="translate(2245.0 839.0) scale(0.9318 1)" font-size="52.7" stroke="#fff" stroke-width="0.5">J774</text>
<text class="tb" transform="translate(201.3 1687.5) scale(1.2105 1)" font-size="46.9" stroke="#fff" stroke-width="0.5" clip-path="url(#f8)">1</text>
<text class="tb" transform="translate(496.0 1687.5) scale(1.0350 1)" font-size="46.9" stroke="#fff" stroke-width="0.5" clip-path="url(#f9)">10</text>
<text class="tb" transform="translate(787.2 1687.5) scale(1.0318 1)" font-size="46.9" stroke="#fff" stroke-width="0.5" clip-path="url(#f10)">100</text>
<text class="tb" transform="translate(1081.1 1687.5) scale(1.0474 1)" font-size="46.9" stroke="#fff" stroke-width="0.5" clip-path="url(#f11)">1000</text>
<line x1="217.7" y1="1238.3" x2="217.7" y2="2096.6" stroke="#000" stroke-width="3.4"/>
<line x1="202.5" y1="1605" x2="1137.2" y2="1605" stroke="#000" stroke-width="3.4"/>
<line x1="202.5" y1="1240" x2="217.7" y2="1240" stroke="#000" stroke-width="3.4"/>
<text class="tb" transform="translate(114.3 1254.9) scale(1.0324 1)" font-size="47.6" stroke="#fff" stroke-width="0.5">0.6</text>
<line x1="202.5" y1="1361.5" x2="217.7" y2="1361.5" stroke="#000" stroke-width="3.4"/>
<text class="tb" transform="translate(114.3 1376.4) scale(1.0094 1)" font-size="47.6" stroke="#fff" stroke-width="0.5">0.4</text>
<line x1="202.5" y1="1483.5" x2="217.7" y2="1483.5" stroke="#000" stroke-width="3.4"/>
<text class="tb" transform="translate(114.3 1498.4) scale(1.0364 1)" font-size="47.6" stroke="#fff" stroke-width="0.5">0.2</text>
<line x1="202.5" y1="1605" x2="217.7" y2="1605" stroke="#000" stroke-width="3.4"/>
<text class="tb" transform="translate(114.3 1619.9) scale(1.0364 1)" font-size="47.6" stroke="#fff" stroke-width="0.5">0.0</text>
<line x1="202.5" y1="1730.2" x2="217.7" y2="1730.2" stroke="#000" stroke-width="3.4"/>
<text class="tb" transform="translate(88.9 1718.0) scale(0.9851 1)" font-size="45.8">−0.2</text>
<line x1="202.5" y1="1851.4" x2="217.7" y2="1851.4" stroke="#000" stroke-width="3.4"/>
<text class="tb" transform="translate(88.9 1842.6) scale(0.9554 1)" font-size="46.3">−0.4</text>
<line x1="202.5" y1="1973" x2="217.7" y2="1973" stroke="#000" stroke-width="3.4"/>
<text class="tb" transform="translate(88.9 1967.5) scale(0.9825 1)" font-size="45.8">−0.6</text>
<line x1="202.5" y1="2094.9" x2="217.7" y2="2094.9" stroke="#000" stroke-width="3.4"/>
<text class="tb" transform="translate(88.9 2092.7) scale(0.9621 1)" font-size="46.6">−0.8</text>
<line x1="217.7" y1="1605" x2="217.7" y2="1619.5" stroke="#000" stroke-width="3.4"/>
<line x1="523.5" y1="1605" x2="523.5" y2="1619.5" stroke="#000" stroke-width="3.4"/>
<line x1="829" y1="1605" x2="829" y2="1619.5" stroke="#000" stroke-width="3.4"/>
<line x1="1135.5" y1="1605" x2="1135.5" y2="1619.5" stroke="#000" stroke-width="3.4"/>
<text class="tb" transform="translate(604.7 2154.0) scale(0.9995 1)" font-size="47.6" stroke="#fff" stroke-width="0.5">ug/mL</text>
<text class="tr" transform="translate(76.4 1866.6) rotate(-90) scale(1.0823 1)" font-size="54.2" stroke="#000" stroke-width="1.7" stroke-linejoin="round">Cytotoxicity<tspan dx="3.3"> </tspan>Index</text>
<text class="tb" transform="translate(270.8 1250.3) scale(0.9476 1)" font-size="78.5">c</text>
<path d="M244,1710.1V1781.3M232.2,1710.1h23.5M232.2,1781.3h23.5" stroke="#000" stroke-width="3.4" fill="none"/>
<path d="M335.5,1730.2V1811.3M323.8,1730.2h23.5M323.8,1811.3h23.5" stroke="#000" stroke-width="3.4" fill="none"/>
<path d="M426.7,1750.2V1844.7M414.9,1750.2h23.5M414.9,1844.7h23.5" stroke="#000" stroke-width="3.4" fill="none"/>
<path d="M518,1814.7V1950M506.2,1814.7h23.5M506.2,1950h23.5" stroke="#000" stroke-width="3.4" fill="none"/>
<path d="M612.7,1818.7V1960M601,1818.7h23.5M601,1960h23.5" stroke="#000" stroke-width="3.4" fill="none"/>
<path d="M703.6,1740V1831M691.9,1740h23.5M691.9,1831h23.5" stroke="#000" stroke-width="3.4" fill="none"/>
<path d="M794.8,1557V1577.5M783,1557h23.5M783,1577.5h23.5" stroke="#000" stroke-width="3.4" fill="none"/>
<path d="M890,1418V1494M878.2,1418h23.5M878.2,1494h23.5" stroke="#000" stroke-width="3.4" fill="none"/>
<path d="M703.6,1558V1575.8M691.9,1558h23.5M691.9,1575.8h23.5" stroke="#000" stroke-width="3.4" fill="none"/>
<path d="M794.8,1500.6V1527.4M783,1500.6h23.5M783,1527.4h23.5" stroke="#000" stroke-width="3.4" fill="none"/>
<path d="M890,1358V1418M878.2,1358h23.5M878.2,1418h23.5" stroke="#000" stroke-width="3.4" fill="none"/>
<path d="M703.6,1493V1514M691.9,1493h23.5M691.9,1514h23.5" stroke="#000" stroke-width="3.4" fill="none"/>
<path d="M794.8,1406V1443M783,1406h23.5M783,1443h23.5" stroke="#000" stroke-width="3.4" fill="none"/>
<path d="M890,1304.6V1352M878.2,1304.6h23.5M878.2,1352h23.5" stroke="#000" stroke-width="3.4" fill="none"/>
<g fill="#006411">
<path d="M239.7,1742L243,1738.7L334.5,1765.2L337.9,1768.6L334.5,1771.9L243,1745.3ZM331.1,1768.6L334.5,1765.2L425.7,1792L429.1,1795.3L425.7,1798.6L334.5,1771.9ZM422.3,1795.3L425.7,1792L517,1877.2L520.4,1880.5L517,1883.8L425.7,1798.6ZM513.6,1880.5L517,1877.2L611.7,1883.9L615.1,1887.2L611.7,1890.5L517,1883.8ZM608.4,1887.2L699.2,1782L702.6,1778.7L706,1782L615.1,1887.2L611.7,1890.5ZM699.2,1782L790.4,1566L793.8,1562.7L797.1,1566L706,1782L702.6,1785.3ZM790.4,1566L885.6,1455.5L889,1452.2L892.4,1455.5L797.1,1566L793.8,1569.3Z"/>
<use href="#mk" x="243" y="1742"/>
<use href="#mk" x="334.5" y="1768.6"/>
<use href="#mk" x="425.7" y="1795.3"/>
<use href="#mk" x="517" y="1880.5"/>
<use href="#mk" x="611.7" y="1887.2"/>
<use href="#mk" x="702.6" y="1782"/>
<use href="#mk" x="793.8" y="1566"/>
<use href="#mk" x="889" y="1455.5"/>
</g>
<g fill="#DC2832">
<path d="M362.3,1603.5L365.7,1600.2L425.7,1586L429.1,1589.3L425.7,1592.6L365.7,1606.8ZM422.3,1589.3L425.7,1586L517,1594.2L520.4,1597.5L517,1600.8L425.7,1592.6ZM513.6,1597.5L517,1594.2L611.7,1617.7L615.1,1621L611.7,1624.3L517,1600.8ZM608.4,1621L611.7,1617.7L702.6,1562.7L706,1566L702.6,1569.3L611.7,1624.3ZM699.2,1566L702.6,1562.7L793.8,1509.7L797.1,1513L793.8,1516.3L702.6,1569.3ZM790.4,1513L885.6,1381L889,1377.7L892.4,1381L797.1,1513L793.8,1516.3Z"/>
<use href="#mk" x="425.7" y="1589.3"/>
<use href="#mk" x="517" y="1597.5"/>
<use href="#mk" x="611.7" y="1621"/>
<use href="#mk" x="702.6" y="1566"/>
<use href="#mk" x="793.8" y="1513"/>
<use href="#mk" x="889" y="1381"/>
</g>
<g fill="#0000D4">
<path d="M239.7,1603.5L243,1600.2L334.5,1600.2L337.9,1603.5L334.5,1606.8L243,1606.8ZM331.1,1603.5L334.5,1600.2L425.7,1600.2L429.1,1603.5L425.7,1606.8L334.5,1606.8ZM422.3,1603.5L425.7,1600.2L517,1630.9L520.4,1634.2L517,1637.5L425.7,1606.8ZM513.6,1634.2L517,1630.9L611.7,1589.2L615.1,1592.5L611.7,1595.8L517,1637.5ZM608.4,1592.5L699.2,1501L702.6,1497.7L706,1501L615.1,1592.5L611.7,1595.8ZM699.2,1501L702.6,1497.7L793.8,1416.2L797.1,1419.5L793.8,1422.8L702.6,1504.3ZM790.4,1419.5L793.8,1416.2L889,1326.7L892.4,1330L889,1333.3L793.8,1422.8Z"/>
<use href="#mk" x="243" y="1603.5"/>
<use href="#mk" x="334.5" y="1603.5"/>
<use href="#mk" x="425.7" y="1603.5"/>
<use href="#mk" x="517" y="1634.2"/>
<use href="#mk" x="611.7" y="1592.5"/>
<use href="#mk" x="702.6" y="1501"/>
<use href="#mk" x="793.8" y="1419.5"/>
<use href="#mk" x="889" y="1330"/>
</g>
<line x1="925.3" y1="1863.8" x2="1023.2" y2="1863.8" stroke="#006411" stroke-width="6.7"/>
<use href="#mk" x="972.6" y="1863.8" fill="#006411"/>
<text class="tb" transform="translate(1032.1 1880.2) scale(0.9717 1)" font-size="47.9" stroke="#fff" stroke-width="0.5">ATDC5</text>
<line x1="925.3" y1="1938" x2="1023.2" y2="1938" stroke="#DC2832" stroke-width="6.7"/>
<use href="#mk" x="972.6" y="1938" fill="#DC2832"/>
<text class="tb" transform="translate(1030.5 1954.2) scale(0.9912 1)" font-size="47.9" stroke="#fff" stroke-width="0.5">RAW264</text>
<line x1="925.3" y1="2012.7" x2="1023.2" y2="2012.7" stroke="#0000D4" stroke-width="6.7"/>
<use href="#mk" x="972.6" y="2012.7" fill="#0000D4"/>
<text class="tb" transform="translate(1032.5 2029.1) scale(1.0643 1)" font-size="47.7" stroke="#fff" stroke-width="0.5">Jurkat</text>
<text class="tb" transform="translate(1454.6 1690.8) scale(1.1997 1)" font-size="47.3" stroke="#fff" stroke-width="0.5" clip-path="url(#f12)">1</text>
<text class="tb" transform="translate(1742.6 1690.8) scale(1.0614 1)" font-size="47.3" stroke="#fff" stroke-width="0.5" clip-path="url(#f13)">10</text>
<text class="tb" transform="translate(2032.5 1690.8) scale(1.0456 1)" font-size="47.3" stroke="#fff" stroke-width="0.5" clip-path="url(#f14)">100</text>
<text class="tb" transform="translate(2319.7 1690.8) scale(1.0390 1)" font-size="47.3" stroke="#fff" stroke-width="0.5" clip-path="url(#f15)">1000</text>
<line x1="1471" y1="1210.8" x2="1471" y2="2140.4" stroke="#000" stroke-width="3.4"/>
<line x1="1455" y1="1607.8" x2="2377.7" y2="1607.8" stroke="#000" stroke-width="3.4"/>
<line x1="1455" y1="1212.5" x2="1471" y2="1212.5" stroke="#000" stroke-width="3.4"/>
<text class="tb" transform="translate(1366.3 1227.6) scale(1.0593 1)" font-size="46.8" stroke="#fff" stroke-width="0.5">0.6</text>
<line x1="1455" y1="1344.5" x2="1471" y2="1344.5" stroke="#000" stroke-width="3.4"/>
<text class="tb" transform="translate(1366.3 1359.6) scale(1.0356 1)" font-size="46.8" stroke="#fff" stroke-width="0.5">0.4</text>
<line x1="1455" y1="1476" x2="1471" y2="1476" stroke="#000" stroke-width="3.4"/>
<text class="tb" transform="translate(1366.3 1491.1) scale(1.0634 1)" font-size="46.8" stroke="#fff" stroke-width="0.5">0.2</text>
<line x1="1455" y1="1607.8" x2="1471" y2="1607.8" stroke="#000" stroke-width="3.4"/>
<text class="tb" transform="translate(1366.3 1622.9) scale(1.0634 1)" font-size="46.8" stroke="#fff" stroke-width="0.5">0.0</text>
<line x1="1455" y1="1743.8" x2="1471" y2="1743.8" stroke="#000" stroke-width="3.4"/>
<text class="tb" transform="translate(1345.6 1755.5) scale(0.9820 1)" font-size="45.9">−0.2</text>
<line x1="1455" y1="1876" x2="1471" y2="1876" stroke="#000" stroke-width="3.4"/>
<text class="tb" transform="translate(1345.6 1879.5) scale(0.9642 1)" font-size="45.9">−0.4</text>
<line x1="1455" y1="2007.4" x2="1471" y2="2007.4" stroke="#000" stroke-width="3.4"/>
<text class="tb" transform="translate(1345.6 2001.9) scale(0.9825 1)" font-size="45.8">−0.6</text>
<line x1="1455" y1="2138.7" x2="1471" y2="2138.7" stroke="#000" stroke-width="3.4"/>
<text class="tb" transform="translate(1345.6 2126.5) scale(0.9769 1)" font-size="45.9">−0.8</text>
<line x1="1471" y1="1607.8" x2="1471" y2="1623" stroke="#000" stroke-width="3.4"/>
<line x1="1771" y1="1607.8" x2="1771" y2="1623" stroke="#000" stroke-width="3.4"/>
<line x1="2074.5" y1="1607.8" x2="2074.5" y2="1623" stroke="#000" stroke-width="3.4"/>
<line x1="2376" y1="1607.8" x2="2376" y2="1623" stroke="#000" stroke-width="3.4"/>
<text class="tb" transform="translate(1850.5 2194.4) scale(1.0439 1)" font-size="45.9" stroke="#fff" stroke-width="0.5">ug/mL</text>
<text class="tr" transform="translate(1326.6 1862.5) rotate(-90) scale(1.0804 1)" font-size="54.2" stroke="#000" stroke-width="1.7" stroke-linejoin="round">Cytotoxicity<tspan dx="1.5"> </tspan>Index</text>
<text class="tb" transform="translate(1488.7 1251.2) scale(1.0597 1)" font-size="77.6">d</text>
<path d="M1623.1,1642V1702.8M1611.4,1642h23.5M1611.4,1702.8h23.5" stroke="#000" stroke-width="3.4" fill="none"/>
<path d="M1714.1,1720.2V1943.3M1702.4,1720.2h23.5M1702.4,1943.3h23.5" stroke="#000" stroke-width="3.4" fill="none"/>
<path d="M1803.2,1747.5V2028.1M1791.5,1747.5h23.5M1791.5,2028.1h23.5" stroke="#000" stroke-width="3.4" fill="none"/>
<path d="M1893.5,1747.5V2018.1M1881.8,1747.5h23.5M1881.8,2018.1h23.5" stroke="#000" stroke-width="3.4" fill="none"/>
<path d="M1984,1710V1912M1972.2,1710h23.5M1972.2,1912h23.5" stroke="#000" stroke-width="3.4" fill="none"/>
<path d="M2075.9,1638V1845.5M2064.1,1638h23.5M2064.1,1845.5h23.5" stroke="#000" stroke-width="3.4" fill="none"/>
<path d="M2166.7,1531V1591.5M2154.9,1531h23.5M2154.9,1591.5h23.5" stroke="#000" stroke-width="3.4" fill="none"/>
<path d="M2257.9,1446V1537.4M2246.1,1446h23.5M2246.1,1537.4h23.5" stroke="#000" stroke-width="3.4" fill="none"/>
<path d="M1893.5,1635.5V1658.5M1881.8,1635.5h23.5M1881.8,1658.5h23.5" stroke="#000" stroke-width="3.4" fill="none"/>
<path d="M1984,1638V1669M1972.2,1638h23.5M1972.2,1669h23.5" stroke="#000" stroke-width="3.4" fill="none"/>
<path d="M2075.9,1638V1668M2064.1,1638h23.5M2064.1,1668h23.5" stroke="#000" stroke-width="3.4" fill="none"/>
<path d="M2166.7,1531V1563M2154.9,1531h23.5M2154.9,1563h23.5" stroke="#000" stroke-width="3.4" fill="none"/>
<path d="M2257.9,1314.3V1392.1M2246.1,1314.3h23.5M2246.1,1392.1h23.5" stroke="#000" stroke-width="3.4" fill="none"/>
<path d="M1984,1518.5V1541M1972.2,1518.5h23.5M1972.2,1541h23.5" stroke="#000" stroke-width="3.4" fill="none"/>
<path d="M2075.9,1277.5V1365M2064.1,1277.5h23.5M2064.1,1365h23.5" stroke="#000" stroke-width="3.4" fill="none"/>
<path d="M2166.7,1236.5V1334M2154.9,1236.5h23.5M2154.9,1334h23.5" stroke="#000" stroke-width="3.4" fill="none"/>
<path d="M2257.9,1210.1V1314.3M2246.1,1210.1h23.5M2246.1,1314.3h23.5" stroke="#000" stroke-width="3.4" fill="none"/>
<g fill="#006411">
<path d="M1618.1,1671L1621.4,1667.7L1624.8,1671L1715.8,1829.5L1712.4,1832.8L1709.1,1829.5ZM1709.1,1829.5L1712.4,1826.2L1801.5,1883.9L1804.8,1887.2L1801.5,1890.5L1712.4,1832.8ZM1798.2,1887.2L1801.5,1883.9L1891.8,1877.8L1895.1,1881.1L1891.8,1884.4L1801.5,1890.5ZM1888.5,1881.1L1891.8,1877.8L1982.3,1806.2L1985.6,1809.5L1982.3,1812.8L1891.8,1884.4ZM1979,1809.5L1982.3,1806.2L2074.2,1762.2L2077.5,1765.5L2074.2,1768.8L1982.3,1812.8ZM2070.8,1765.5L2161.7,1569.5L2165,1566.2L2168.3,1569.5L2077.5,1765.5L2074.2,1768.8ZM2161.7,1569.5L2252.8,1464.5L2256.2,1461.2L2259.5,1464.5L2168.3,1569.5L2165,1572.8Z"/>
<use href="#mk" x="1621.4" y="1671"/>
<use href="#mk" x="1712.4" y="1829.5"/>
<use href="#mk" x="1801.5" y="1887.2"/>
<use href="#mk" x="1891.8" y="1881.1"/>
<use href="#mk" x="1982.3" y="1809.5"/>
<use href="#mk" x="2074.2" y="1765.5"/>
<use href="#mk" x="2165" y="1569.5"/>
<use href="#mk" x="2256.2" y="1464.5"/>
</g>
<g fill="#DC2832">
<path d="M1618.1,1607L1621.4,1603.7L1712.4,1602.7L1715.8,1606L1712.4,1609.3L1621.4,1610.3ZM1709.1,1606L1712.4,1602.7L1801.5,1626.2L1804.8,1629.5L1801.5,1632.8L1712.4,1609.3ZM1798.2,1629.5L1801.5,1626.2L1891.8,1640.2L1895.1,1643.5L1891.8,1646.8L1801.5,1632.8ZM1888.5,1643.5L1891.8,1640.2L1982.3,1647.7L1985.6,1651L1982.3,1654.3L1891.8,1646.8ZM1979,1651L1982.3,1647.7L2074.2,1649.7L2077.5,1653L2074.2,1656.3L1982.3,1654.3ZM2070.8,1653L2161.7,1547L2165,1543.7L2168.3,1547L2077.5,1653L2074.2,1656.3ZM2161.7,1547L2252.8,1357.5L2256.2,1354.2L2259.5,1357.5L2168.3,1547L2165,1550.3Z"/>
<use href="#mk" x="1621.4" y="1607"/>
<use href="#mk" x="1712.4" y="1606"/>
<use href="#mk" x="1801.5" y="1629.5"/>
<use href="#mk" x="1891.8" y="1643.5"/>
<use href="#mk" x="1982.3" y="1651"/>
<use href="#mk" x="2074.2" y="1653"/>
<use href="#mk" x="2165" y="1547"/>
<use href="#mk" x="2256.2" y="1357.5"/>
</g>
<g fill="#0000D4">
<path d="M1618.1,1607L1621.4,1603.7L1712.4,1647.7L1715.8,1651L1712.4,1654.3L1621.4,1610.3ZM1709.1,1651L1712.4,1647.7L1801.5,1623.7L1804.8,1627L1801.5,1630.3L1712.4,1654.3ZM1798.2,1627L1801.5,1623.7L1891.8,1596.2L1895.1,1599.5L1891.8,1602.8L1801.5,1630.3ZM1888.5,1599.5L1891.8,1596.2L1982.3,1526.2L1985.6,1529.5L1982.3,1532.8L1891.8,1602.8ZM1979,1529.5L2070.8,1320L2074.2,1316.7L2077.5,1320L1985.6,1529.5L1982.3,1532.8ZM2070.8,1320L2074.2,1316.7L2165,1282.7L2168.3,1286L2165,1289.3L2074.2,1323.3ZM2161.7,1286L2165,1282.7L2256.2,1259.2L2259.5,1262.5L2256.2,1265.8L2165,1289.3Z"/>
<use href="#mk" x="1621.4" y="1607"/>
<use href="#mk" x="1712.4" y="1651"/>
<use href="#mk" x="1801.5" y="1627"/>
<use href="#mk" x="1891.8" y="1599.5"/>
<use href="#mk" x="1982.3" y="1529.5"/>
<use href="#mk" x="2074.2" y="1320"/>
<use href="#mk" x="2165" y="1286"/>
<use href="#mk" x="2256.2" y="1262.5"/>
</g>
<line x1="2165.4" y1="1901" x2="2262.9" y2="1901" stroke="#006411" stroke-width="6.7"/>
<use href="#mk" x="2212" y="1901" fill="#006411"/>
<text class="tb" transform="translate(2273.1 1917.1) scale(0.9684 1)" font-size="46.8" stroke="#fff" stroke-width="0.5">ATDC5</text>
<line x1="2165.4" y1="1975.5" x2="2262.9" y2="1975.5" stroke="#DC2832" stroke-width="6.7"/>
<use href="#mk" x="2212" y="1975.5" fill="#DC2832"/>
<text class="tb" transform="translate(2272.6 1991.1) scale(0.9963 1)" font-size="46.8" stroke="#fff" stroke-width="0.5">RAW264</text>
<line x1="2165.4" y1="2049.5" x2="2262.9" y2="2049.5" stroke="#0000D4" stroke-width="6.7"/>
<use href="#mk" x="2212" y="2049.5" fill="#0000D4"/>
<text class="tb" transform="translate(2273.5 2066.1) scale(1.0587 1)" font-size="46.8" stroke="#fff" stroke-width="0.5">Jurkat</text>
</svg>
</body>
</html>
